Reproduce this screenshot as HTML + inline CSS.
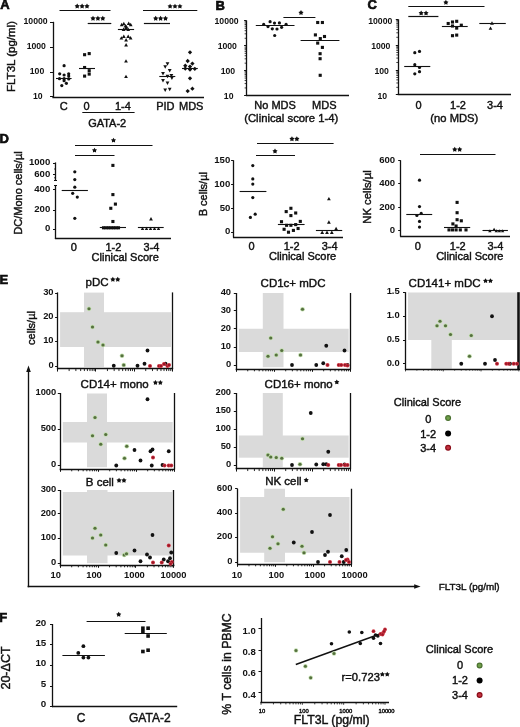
<!DOCTYPE html>
<html><head><meta charset="utf-8"><style>
html,body{margin:0;padding:0;background:#fff;overflow:hidden;}
svg{display:block;font-family:"Liberation Sans", sans-serif;will-change:transform;}
</style></head><body>
<svg width="520" height="727" viewBox="0 0 520 727">
<rect width="520" height="727" fill="#fff"/>
<text x="0.20" y="9.30" font-size="13" text-anchor="start" font-weight="bold" stroke="#000" stroke-width="0.6" fill="#111">A</text>
<line x1="53.50" y1="21.80" x2="53.50" y2="98.00" stroke="#111" stroke-width="1.3"/>
<line x1="52.40" y1="97.50" x2="204.00" y2="97.50" stroke="#111" stroke-width="1.3"/>
<line x1="50.00" y1="22.50" x2="53.00" y2="22.50" stroke="#111" stroke-width="1.0"/>
<line x1="50.00" y1="47.50" x2="53.00" y2="47.50" stroke="#111" stroke-width="1.0"/>
<line x1="50.00" y1="72.50" x2="53.00" y2="72.50" stroke="#111" stroke-width="1.0"/>
<line x1="50.00" y1="96.50" x2="53.00" y2="96.50" stroke="#111" stroke-width="1.0"/>
<text x="35.60" y="23.81" font-size="8.7" text-anchor="middle" font-weight="bold" fill="#111">10000</text>
<text x="36.30" y="48.81" font-size="8.7" text-anchor="middle" font-weight="bold" fill="#111">1000</text>
<text x="37.00" y="73.81" font-size="8.7" text-anchor="middle" font-weight="bold" fill="#111">100</text>
<text x="37.80" y="98.51" font-size="8.7" text-anchor="middle" font-weight="bold" fill="#111">10</text>
<text x="11.10" y="60.62" font-size="11.5" text-anchor="middle" stroke="#111" stroke-width="0.42" fill="#111" transform="rotate(-90 11.10 56.50)">FLT3L (pg/ml)</text>
<text x="63.80" y="110.14" font-size="11" text-anchor="middle" stroke="#111" stroke-width="0.42" fill="#111">C</text>
<text x="86.60" y="110.14" font-size="11" text-anchor="middle" stroke="#111" stroke-width="0.42" fill="#111">0</text>
<text x="122.90" y="110.14" font-size="11" text-anchor="middle" stroke="#111" stroke-width="0.42" fill="#111">1-4</text>
<text x="165.40" y="110.14" font-size="11" text-anchor="middle" stroke="#111" stroke-width="0.42" fill="#111">PID</text>
<text x="191.20" y="110.14" font-size="11" text-anchor="middle" stroke="#111" stroke-width="0.42" fill="#111">MDS</text>
<line x1="82.30" y1="112.50" x2="134.60" y2="112.50" stroke="#111" stroke-width="1.2"/>
<text x="107.20" y="127.14" font-size="11" text-anchor="middle" stroke="#111" stroke-width="0.42" fill="#111">GATA-2</text>
<line x1="59.50" y1="10.50" x2="110.50" y2="10.50" stroke="#111" stroke-width="1.2"/>
<polygon points="77.20,3.55 78.09,5.03 79.77,5.42 78.64,6.72 78.79,8.43 77.20,7.76 75.61,8.43 75.76,6.72 74.63,5.42 76.31,5.03" fill="#111"/>
<polygon points="82.10,3.55 82.99,5.03 84.67,5.42 83.54,6.72 83.69,8.43 82.10,7.76 80.51,8.43 80.66,6.72 79.53,5.42 81.21,5.03" fill="#111"/>
<polygon points="87.00,3.55 87.89,5.03 89.57,5.42 88.44,6.72 88.59,8.43 87.00,7.76 85.41,8.43 85.56,6.72 84.43,5.42 86.11,5.03" fill="#111"/>
<line x1="87.70" y1="23.50" x2="111.30" y2="23.50" stroke="#111" stroke-width="1.2"/>
<polygon points="93.00,15.75 93.89,17.23 95.57,17.62 94.44,18.92 94.59,20.63 93.00,19.96 91.41,20.63 91.56,18.92 90.43,17.62 92.11,17.23" fill="#111"/>
<polygon points="97.90,15.75 98.79,17.23 100.47,17.62 99.34,18.92 99.49,20.63 97.90,19.96 96.31,20.63 96.46,18.92 95.33,17.62 97.01,17.23" fill="#111"/>
<polygon points="102.80,15.75 103.69,17.23 105.37,17.62 104.24,18.92 104.39,20.63 102.80,19.96 101.21,20.63 101.36,18.92 100.23,17.62 101.91,17.23" fill="#111"/>
<line x1="143.00" y1="10.50" x2="197.30" y2="10.50" stroke="#111" stroke-width="1.2"/>
<polygon points="170.10,3.65 170.99,5.13 172.67,5.52 171.54,6.82 171.69,8.53 170.10,7.86 168.51,8.53 168.66,6.82 167.53,5.52 169.21,5.13" fill="#111"/>
<polygon points="175.00,3.65 175.89,5.13 177.57,5.52 176.44,6.82 176.59,8.53 175.00,7.86 173.41,8.53 173.56,6.82 172.43,5.52 174.11,5.13" fill="#111"/>
<polygon points="179.90,3.65 180.79,5.13 182.47,5.52 181.34,6.82 181.49,8.53 179.90,7.86 178.31,8.53 178.46,6.82 177.33,5.52 179.01,5.13" fill="#111"/>
<line x1="143.90" y1="23.50" x2="170.00" y2="23.50" stroke="#111" stroke-width="1.2"/>
<polygon points="155.70,15.85 156.59,17.33 158.27,17.72 157.14,19.02 157.29,20.73 155.70,20.06 154.11,20.73 154.26,19.02 153.13,17.72 154.81,17.33" fill="#111"/>
<polygon points="160.60,15.85 161.49,17.33 163.17,17.72 162.04,19.02 162.19,20.73 160.60,20.06 159.01,20.73 159.16,19.02 158.03,17.72 159.71,17.33" fill="#111"/>
<polygon points="165.50,15.85 166.39,17.33 168.07,17.72 166.94,19.02 167.09,20.73 165.50,20.06 163.91,20.73 164.06,19.02 162.93,17.72 164.61,17.33" fill="#111"/>
<circle cx="64.10" cy="65.70" r="1.6" fill="#111"/>
<circle cx="59.70" cy="73.80" r="1.6" fill="#111"/>
<circle cx="64.10" cy="75.00" r="1.6" fill="#111"/>
<circle cx="68.70" cy="73.80" r="1.6" fill="#111"/>
<circle cx="68.70" cy="76.10" r="1.6" fill="#111"/>
<circle cx="59.50" cy="78.70" r="1.6" fill="#111"/>
<circle cx="64.10" cy="78.70" r="1.6" fill="#111"/>
<circle cx="68.70" cy="78.90" r="1.6" fill="#111"/>
<circle cx="64.10" cy="80.70" r="1.6" fill="#111"/>
<circle cx="66.40" cy="83.30" r="1.6" fill="#111"/>
<circle cx="61.80" cy="85.60" r="1.6" fill="#111"/>
<line x1="56.00" y1="78.50" x2="71.60" y2="78.50" stroke="#111" stroke-width="1.1"/>
<rect x="83.05" y="53.15" width="3.1" height="3.1" fill="#111"/>
<rect x="87.65" y="52.05" width="3.1" height="3.1" fill="#111"/>
<rect x="83.05" y="65.95" width="3.1" height="3.1" fill="#111"/>
<rect x="87.65" y="69.15" width="3.1" height="3.1" fill="#111"/>
<rect x="87.65" y="72.55" width="3.1" height="3.1" fill="#111"/>
<rect x="83.05" y="74.55" width="3.1" height="3.1" fill="#111"/>
<line x1="79.00" y1="68.50" x2="95.00" y2="68.50" stroke="#111" stroke-width="1.1"/>
<path d="M121.70 22.79L123.60 26.21L119.80 26.21Z" fill="#111"/>
<path d="M123.80 21.79L125.70 25.21L121.90 25.21Z" fill="#111"/>
<path d="M128.70 21.49L130.60 24.91L126.80 24.91Z" fill="#111"/>
<path d="M130.70 22.79L132.60 26.21L128.80 26.21Z" fill="#111"/>
<path d="M125.50 24.09L127.40 27.51L123.60 27.51Z" fill="#111"/>
<path d="M126.50 25.09L128.40 28.51L124.60 28.51Z" fill="#111"/>
<path d="M123.60 27.49L125.50 30.91L121.70 30.91Z" fill="#111"/>
<path d="M128.20 27.49L130.10 30.91L126.30 30.91Z" fill="#111"/>
<path d="M126.00 26.09L127.90 29.51L124.10 29.51Z" fill="#111"/>
<path d="M121.40 36.19L123.30 39.61L119.50 39.61Z" fill="#111"/>
<path d="M123.80 34.59L125.70 38.01L121.90 38.01Z" fill="#111"/>
<path d="M128.20 34.59L130.10 38.01L126.30 38.01Z" fill="#111"/>
<path d="M130.60 35.99L132.50 39.41L128.70 39.41Z" fill="#111"/>
<path d="M126.10 38.09L128.00 41.51L124.20 41.51Z" fill="#111"/>
<path d="M126.10 42.99L128.00 46.41L124.20 46.41Z" fill="#111"/>
<path d="M126.00 59.19L127.90 62.61L124.10 62.61Z" fill="#111"/>
<path d="M126.00 74.69L127.90 78.11L124.10 78.11Z" fill="#111"/>
<line x1="117.90" y1="29.50" x2="134.10" y2="29.50" stroke="#111" stroke-width="1.1"/>
<path d="M167.50 65.71L169.40 62.29L165.60 62.29Z" fill="#111"/>
<path d="M165.20 68.71L167.10 65.29L163.30 65.29Z" fill="#111"/>
<path d="M169.70 72.41L171.60 68.99L167.80 68.99Z" fill="#111"/>
<path d="M163.00 75.51L164.90 72.09L161.10 72.09Z" fill="#111"/>
<path d="M167.50 78.21L169.40 74.79L165.60 74.79Z" fill="#111"/>
<path d="M171.40 77.41L173.30 73.99L169.50 73.99Z" fill="#111"/>
<path d="M171.90 80.01L173.80 76.59L170.00 76.59Z" fill="#111"/>
<path d="M163.00 82.41L164.90 78.99L161.10 78.99Z" fill="#111"/>
<path d="M167.50 85.01L169.40 81.59L165.60 81.59Z" fill="#111"/>
<path d="M165.20 91.91L167.10 88.49L163.30 88.49Z" fill="#111"/>
<path d="M169.70 91.21L171.60 87.79L167.80 87.79Z" fill="#111"/>
<line x1="159.30" y1="76.50" x2="175.30" y2="76.50" stroke="#111" stroke-width="1.1"/>
<path d="M190.00 50.15L192.15 52.30L190.00 54.45L187.85 52.30Z" fill="#111"/>
<path d="M187.70 58.85L189.85 61.00L187.70 63.15L185.55 61.00Z" fill="#111"/>
<path d="M192.40 61.45L194.55 63.60L192.40 65.75L190.25 63.60Z" fill="#111"/>
<path d="M185.30 63.55L187.45 65.70L185.30 67.85L183.15 65.70Z" fill="#111"/>
<path d="M190.00 64.45L192.15 66.60L190.00 68.75L187.85 66.60Z" fill="#111"/>
<path d="M185.30 66.45L187.45 68.60L185.30 70.75L183.15 68.60Z" fill="#111"/>
<path d="M190.00 67.35L192.15 69.50L190.00 71.65L187.85 69.50Z" fill="#111"/>
<path d="M194.80 66.65L196.95 68.80L194.80 70.95L192.65 68.80Z" fill="#111"/>
<path d="M190.00 76.15L192.15 78.30L190.00 80.45L187.85 78.30Z" fill="#111"/>
<path d="M187.70 88.95L189.85 91.10L187.70 93.25L185.55 91.10Z" fill="#111"/>
<path d="M192.40 86.55L194.55 88.70L192.40 90.85L190.25 88.70Z" fill="#111"/>
<line x1="182.00" y1="68.50" x2="197.80" y2="68.50" stroke="#111" stroke-width="1.1"/>
<text x="215.40" y="9.80" font-size="13" text-anchor="start" font-weight="bold" stroke="#000" stroke-width="0.6" fill="#111">B</text>
<line x1="246.50" y1="20.50" x2="246.50" y2="95.80" stroke="#111" stroke-width="1.3"/>
<line x1="246.00" y1="95.50" x2="349.00" y2="95.50" stroke="#111" stroke-width="1.3"/>
<line x1="244.10" y1="20.50" x2="246.60" y2="20.50" stroke="#111" stroke-width="1.0"/>
<line x1="244.10" y1="45.50" x2="246.60" y2="45.50" stroke="#111" stroke-width="1.0"/>
<line x1="244.10" y1="70.50" x2="246.60" y2="70.50" stroke="#111" stroke-width="1.0"/>
<line x1="244.10" y1="95.50" x2="246.60" y2="95.50" stroke="#111" stroke-width="1.0"/>
<line x1="244.60" y1="38.28" x2="246.60" y2="38.28" stroke="#111" stroke-width="0.8"/>
<line x1="244.60" y1="33.83" x2="246.60" y2="33.83" stroke="#111" stroke-width="0.8"/>
<line x1="244.60" y1="30.67" x2="246.60" y2="30.67" stroke="#111" stroke-width="0.8"/>
<line x1="244.60" y1="28.22" x2="246.60" y2="28.22" stroke="#111" stroke-width="0.8"/>
<line x1="244.60" y1="26.21" x2="246.60" y2="26.21" stroke="#111" stroke-width="0.8"/>
<line x1="244.60" y1="24.52" x2="246.60" y2="24.52" stroke="#111" stroke-width="0.8"/>
<line x1="244.60" y1="23.05" x2="246.60" y2="23.05" stroke="#111" stroke-width="0.8"/>
<line x1="244.60" y1="21.76" x2="246.60" y2="21.76" stroke="#111" stroke-width="0.8"/>
<line x1="244.60" y1="63.16" x2="246.60" y2="63.16" stroke="#111" stroke-width="0.8"/>
<line x1="244.60" y1="58.82" x2="246.60" y2="58.82" stroke="#111" stroke-width="0.8"/>
<line x1="244.60" y1="55.73" x2="246.60" y2="55.73" stroke="#111" stroke-width="0.8"/>
<line x1="244.60" y1="53.34" x2="246.60" y2="53.34" stroke="#111" stroke-width="0.8"/>
<line x1="244.60" y1="51.38" x2="246.60" y2="51.38" stroke="#111" stroke-width="0.8"/>
<line x1="244.60" y1="49.73" x2="246.60" y2="49.73" stroke="#111" stroke-width="0.8"/>
<line x1="244.60" y1="48.29" x2="246.60" y2="48.29" stroke="#111" stroke-width="0.8"/>
<line x1="244.60" y1="47.03" x2="246.60" y2="47.03" stroke="#111" stroke-width="0.8"/>
<line x1="244.60" y1="87.93" x2="246.60" y2="87.93" stroke="#111" stroke-width="0.8"/>
<line x1="244.60" y1="83.57" x2="246.60" y2="83.57" stroke="#111" stroke-width="0.8"/>
<line x1="244.60" y1="80.47" x2="246.60" y2="80.47" stroke="#111" stroke-width="0.8"/>
<line x1="244.60" y1="78.07" x2="246.60" y2="78.07" stroke="#111" stroke-width="0.8"/>
<line x1="244.60" y1="76.10" x2="246.60" y2="76.10" stroke="#111" stroke-width="0.8"/>
<line x1="244.60" y1="74.44" x2="246.60" y2="74.44" stroke="#111" stroke-width="0.8"/>
<line x1="244.60" y1="73.00" x2="246.60" y2="73.00" stroke="#111" stroke-width="0.8"/>
<line x1="244.60" y1="71.73" x2="246.60" y2="71.73" stroke="#111" stroke-width="0.8"/>
<text x="226.60" y="23.71" font-size="8.7" text-anchor="middle" font-weight="bold" fill="#111">10000</text>
<text x="227.30" y="49.01" font-size="8.7" text-anchor="middle" font-weight="bold" fill="#111">1000</text>
<text x="227.90" y="73.71" font-size="8.7" text-anchor="middle" font-weight="bold" fill="#111">100</text>
<text x="228.70" y="98.51" font-size="8.7" text-anchor="middle" font-weight="bold" fill="#111">10</text>
<text x="275.10" y="109.34" font-size="11" text-anchor="middle" stroke="#111" stroke-width="0.42" fill="#111">No MDS</text>
<text x="324.30" y="109.34" font-size="11" text-anchor="middle" stroke="#111" stroke-width="0.42" fill="#111">MDS</text>
<text x="291.30" y="121.95" font-size="11.3" text-anchor="middle" stroke="#111" stroke-width="0.42" fill="#111">(Clinical score 1-4)</text>
<line x1="283.40" y1="17.50" x2="315.40" y2="17.50" stroke="#111" stroke-width="1.1"/>
<polygon points="301.00,10.05 301.89,11.53 303.57,11.92 302.44,13.22 302.59,14.93 301.00,14.26 299.41,14.93 299.56,13.22 298.43,11.92 300.11,11.53" fill="#111"/>
<circle cx="263.70" cy="24.40" r="1.6" fill="#111"/>
<circle cx="270.10" cy="21.70" r="1.6" fill="#111"/>
<circle cx="274.50" cy="23.10" r="1.6" fill="#111"/>
<circle cx="279.40" cy="22.90" r="1.6" fill="#111"/>
<circle cx="286.10" cy="24.40" r="1.6" fill="#111"/>
<circle cx="268.00" cy="26.60" r="1.6" fill="#111"/>
<circle cx="272.30" cy="28.80" r="1.6" fill="#111"/>
<circle cx="277.00" cy="29.00" r="1.6" fill="#111"/>
<circle cx="281.60" cy="27.30" r="1.6" fill="#111"/>
<circle cx="274.70" cy="35.50" r="1.6" fill="#111"/>
<line x1="255.80" y1="25.50" x2="294.50" y2="25.50" stroke="#111" stroke-width="1.1"/>
<rect x="316.15" y="20.95" width="3.1" height="3.1" fill="#111"/>
<rect x="320.85" y="20.95" width="3.1" height="3.1" fill="#111"/>
<rect x="313.85" y="33.35" width="3.1" height="3.1" fill="#111"/>
<rect x="322.95" y="34.95" width="3.1" height="3.1" fill="#111"/>
<rect x="318.75" y="37.05" width="3.1" height="3.1" fill="#111"/>
<rect x="316.15" y="41.55" width="3.1" height="3.1" fill="#111"/>
<rect x="320.85" y="45.85" width="3.1" height="3.1" fill="#111"/>
<rect x="318.55" y="52.15" width="3.1" height="3.1" fill="#111"/>
<rect x="318.55" y="57.15" width="3.1" height="3.1" fill="#111"/>
<rect x="318.65" y="73.75" width="3.1" height="3.1" fill="#111"/>
<line x1="300.60" y1="40.50" x2="339.40" y2="40.50" stroke="#111" stroke-width="1.1"/>
<text x="367.40" y="9.30" font-size="13" text-anchor="start" font-weight="bold" stroke="#000" stroke-width="0.6" fill="#111">C</text>
<line x1="398.50" y1="19.30" x2="398.50" y2="95.00" stroke="#111" stroke-width="1.3"/>
<line x1="397.70" y1="94.50" x2="511.00" y2="94.50" stroke="#111" stroke-width="1.3"/>
<line x1="395.80" y1="19.50" x2="398.30" y2="19.50" stroke="#111" stroke-width="1.0"/>
<line x1="395.80" y1="45.50" x2="398.30" y2="45.50" stroke="#111" stroke-width="1.0"/>
<line x1="395.80" y1="70.50" x2="398.30" y2="70.50" stroke="#111" stroke-width="1.0"/>
<line x1="395.80" y1="94.50" x2="398.30" y2="94.50" stroke="#111" stroke-width="1.0"/>
<line x1="396.30" y1="37.29" x2="398.30" y2="37.29" stroke="#111" stroke-width="0.8"/>
<line x1="396.30" y1="32.79" x2="398.30" y2="32.79" stroke="#111" stroke-width="0.8"/>
<line x1="396.30" y1="29.59" x2="398.30" y2="29.59" stroke="#111" stroke-width="0.8"/>
<line x1="396.30" y1="27.11" x2="398.30" y2="27.11" stroke="#111" stroke-width="0.8"/>
<line x1="396.30" y1="25.08" x2="398.30" y2="25.08" stroke="#111" stroke-width="0.8"/>
<line x1="396.30" y1="23.37" x2="398.30" y2="23.37" stroke="#111" stroke-width="0.8"/>
<line x1="396.30" y1="21.88" x2="398.30" y2="21.88" stroke="#111" stroke-width="0.8"/>
<line x1="396.30" y1="20.57" x2="398.30" y2="20.57" stroke="#111" stroke-width="0.8"/>
<line x1="396.30" y1="62.47" x2="398.30" y2="62.47" stroke="#111" stroke-width="0.8"/>
<line x1="396.30" y1="58.07" x2="398.30" y2="58.07" stroke="#111" stroke-width="0.8"/>
<line x1="396.30" y1="54.95" x2="398.30" y2="54.95" stroke="#111" stroke-width="0.8"/>
<line x1="396.30" y1="52.53" x2="398.30" y2="52.53" stroke="#111" stroke-width="0.8"/>
<line x1="396.30" y1="50.55" x2="398.30" y2="50.55" stroke="#111" stroke-width="0.8"/>
<line x1="396.30" y1="48.87" x2="398.30" y2="48.87" stroke="#111" stroke-width="0.8"/>
<line x1="396.30" y1="47.42" x2="398.30" y2="47.42" stroke="#111" stroke-width="0.8"/>
<line x1="396.30" y1="46.14" x2="398.30" y2="46.14" stroke="#111" stroke-width="0.8"/>
<line x1="396.30" y1="87.33" x2="398.30" y2="87.33" stroke="#111" stroke-width="0.8"/>
<line x1="396.30" y1="82.97" x2="398.30" y2="82.97" stroke="#111" stroke-width="0.8"/>
<line x1="396.30" y1="79.87" x2="398.30" y2="79.87" stroke="#111" stroke-width="0.8"/>
<line x1="396.30" y1="77.47" x2="398.30" y2="77.47" stroke="#111" stroke-width="0.8"/>
<line x1="396.30" y1="75.50" x2="398.30" y2="75.50" stroke="#111" stroke-width="0.8"/>
<line x1="396.30" y1="73.84" x2="398.30" y2="73.84" stroke="#111" stroke-width="0.8"/>
<line x1="396.30" y1="72.40" x2="398.30" y2="72.40" stroke="#111" stroke-width="0.8"/>
<line x1="396.30" y1="71.13" x2="398.30" y2="71.13" stroke="#111" stroke-width="0.8"/>
<text x="380.30" y="23.71" font-size="8.7" text-anchor="middle" font-weight="bold" fill="#111">10000</text>
<text x="380.80" y="49.31" font-size="8.7" text-anchor="middle" font-weight="bold" fill="#111">1000</text>
<text x="381.70" y="74.31" font-size="8.7" text-anchor="middle" font-weight="bold" fill="#111">100</text>
<text x="382.30" y="99.11" font-size="8.7" text-anchor="middle" font-weight="bold" fill="#111">10</text>
<text x="418.50" y="109.34" font-size="11" text-anchor="middle" stroke="#111" stroke-width="0.42" fill="#111">0</text>
<text x="458.00" y="109.34" font-size="11" text-anchor="middle" stroke="#111" stroke-width="0.42" fill="#111">1-2</text>
<text x="495.00" y="109.34" font-size="11" text-anchor="middle" stroke="#111" stroke-width="0.42" fill="#111">3-4</text>
<text x="454.30" y="122.01" font-size="11.2" text-anchor="middle" stroke="#111" stroke-width="0.42" fill="#111">(no MDS)</text>
<line x1="408.30" y1="6.50" x2="484.50" y2="6.50" stroke="#111" stroke-width="1.2"/>
<polygon points="445.90,-0.15 446.79,1.33 448.47,1.72 447.34,3.02 447.49,4.73 445.90,4.06 444.31,4.73 444.46,3.02 443.33,1.72 445.01,1.33" fill="#111"/>
<line x1="408.30" y1="16.50" x2="438.40" y2="16.50" stroke="#111" stroke-width="1.2"/>
<polygon points="421.15,10.45 422.04,11.93 423.72,12.32 422.59,13.62 422.74,15.33 421.15,14.66 419.56,15.33 419.71,13.62 418.58,12.32 420.26,11.93" fill="#111"/>
<polygon points="426.05,10.45 426.94,11.93 428.62,12.32 427.49,13.62 427.64,15.33 426.05,14.66 424.46,15.33 424.61,13.62 423.48,12.32 425.16,11.93" fill="#111"/>
<circle cx="414.80" cy="52.70" r="1.6" fill="#111"/>
<circle cx="419.50" cy="51.40" r="1.6" fill="#111"/>
<circle cx="414.80" cy="64.70" r="1.6" fill="#111"/>
<circle cx="419.50" cy="67.50" r="1.6" fill="#111"/>
<circle cx="419.50" cy="71.70" r="1.6" fill="#111"/>
<circle cx="414.80" cy="73.80" r="1.6" fill="#111"/>
<line x1="404.20" y1="66.50" x2="430.30" y2="66.50" stroke="#111" stroke-width="1.1"/>
<rect x="446.65" y="21.95" width="3.1" height="3.1" fill="#111"/>
<rect x="450.95" y="20.45" width="3.1" height="3.1" fill="#111"/>
<rect x="455.15" y="19.75" width="3.1" height="3.1" fill="#111"/>
<rect x="459.75" y="23.65" width="3.1" height="3.1" fill="#111"/>
<rect x="450.95" y="24.45" width="3.1" height="3.1" fill="#111"/>
<rect x="455.15" y="26.55" width="3.1" height="3.1" fill="#111"/>
<rect x="450.95" y="34.15" width="3.1" height="3.1" fill="#111"/>
<rect x="455.15" y="33.55" width="3.1" height="3.1" fill="#111"/>
<line x1="441.90" y1="26.50" x2="467.70" y2="26.50" stroke="#111" stroke-width="1.1"/>
<path d="M492.00 21.29L493.90 24.71L490.10 24.71Z" fill="#111"/>
<path d="M490.50 26.39L492.40 29.81L488.60 29.81Z" fill="#111"/>
<line x1="479.30" y1="23.50" x2="505.80" y2="23.50" stroke="#111" stroke-width="1.1"/>
<text x="-0.60" y="142.70" font-size="13" text-anchor="start" font-weight="bold" stroke="#000" stroke-width="0.6" fill="#111">D</text>
<line x1="55.50" y1="162.40" x2="55.50" y2="180.30" stroke="#111" stroke-width="1.3"/>
<line x1="54.00" y1="180.50" x2="57.00" y2="180.50" stroke="#111" stroke-width="1.0"/>
<line x1="54.00" y1="185.50" x2="57.00" y2="185.50" stroke="#111" stroke-width="1.0"/>
<line x1="55.50" y1="185.50" x2="55.50" y2="239.00" stroke="#111" stroke-width="1.3"/>
<line x1="54.90" y1="238.50" x2="171.00" y2="238.50" stroke="#111" stroke-width="1.3"/>
<line x1="53.00" y1="163.50" x2="55.50" y2="163.50" stroke="#111" stroke-width="1.0"/>
<line x1="53.00" y1="174.50" x2="55.50" y2="174.50" stroke="#111" stroke-width="1.0"/>
<line x1="53.00" y1="189.50" x2="55.50" y2="189.50" stroke="#111" stroke-width="1.0"/>
<line x1="53.00" y1="210.50" x2="55.50" y2="210.50" stroke="#111" stroke-width="1.0"/>
<line x1="53.00" y1="229.50" x2="55.50" y2="229.50" stroke="#111" stroke-width="1.0"/>
<line x1="54.00" y1="169.00" x2="55.50" y2="169.00" stroke="#111" stroke-width="0.8"/>
<line x1="54.00" y1="177.80" x2="55.50" y2="177.80" stroke="#111" stroke-width="0.8"/>
<text x="50.30" y="165.44" font-size="9.6" text-anchor="end" font-weight="bold" fill="#111">1000</text>
<text x="50.30" y="177.24" font-size="9.6" text-anchor="end" font-weight="bold" fill="#111">600</text>
<text x="50.30" y="192.24" font-size="9.6" text-anchor="end" font-weight="bold" fill="#111">400</text>
<text x="50.30" y="212.44" font-size="9.6" text-anchor="end" font-weight="bold" fill="#111">200</text>
<text x="50.30" y="231.44" font-size="9.6" text-anchor="end" font-weight="bold" fill="#111">0</text>
<text x="18.50" y="196.94" font-size="11" text-anchor="middle" stroke="#111" stroke-width="0.42" fill="#111" transform="rotate(-90 18.50 193.00)">DC/Mono cells/µl</text>
<text x="73.80" y="251.14" font-size="11" text-anchor="middle" stroke="#111" stroke-width="0.42" fill="#111">0</text>
<text x="113.40" y="251.14" font-size="11" text-anchor="middle" stroke="#111" stroke-width="0.42" fill="#111">1-2</text>
<text x="151.50" y="251.14" font-size="11" text-anchor="middle" stroke="#111" stroke-width="0.42" fill="#111">3-4</text>
<text x="125.20" y="260.94" font-size="11" text-anchor="middle" stroke="#111" stroke-width="0.42" fill="#111">Clinical Score</text>
<line x1="75.00" y1="145.50" x2="152.50" y2="145.50" stroke="#111" stroke-width="1.2"/>
<polygon points="113.50,137.65 114.39,139.13 116.07,139.52 114.94,140.82 115.09,142.53 113.50,141.86 111.91,142.53 112.06,140.82 110.93,139.52 112.61,139.13" fill="#111"/>
<line x1="75.00" y1="155.50" x2="114.50" y2="155.50" stroke="#111" stroke-width="1.2"/>
<polygon points="94.50,147.65 95.39,149.13 97.07,149.52 95.94,150.82 96.09,152.53 94.50,151.86 92.91,152.53 93.06,150.82 91.93,149.52 93.61,149.13" fill="#111"/>
<circle cx="74.80" cy="171.80" r="1.6" fill="#111"/>
<circle cx="74.80" cy="179.60" r="1.6" fill="#111"/>
<circle cx="74.80" cy="187.20" r="1.6" fill="#111"/>
<circle cx="72.70" cy="193.30" r="1.6" fill="#111"/>
<circle cx="77.30" cy="197.10" r="1.6" fill="#111"/>
<circle cx="74.80" cy="218.30" r="1.6" fill="#111"/>
<line x1="61.70" y1="190.50" x2="87.90" y2="190.50" stroke="#111" stroke-width="1.1"/>
<rect x="111.35" y="163.85" width="3.1" height="3.1" fill="#111"/>
<rect x="111.35" y="193.05" width="3.1" height="3.1" fill="#111"/>
<rect x="113.85" y="202.55" width="3.1" height="3.1" fill="#111"/>
<rect x="109.25" y="206.75" width="3.1" height="3.1" fill="#111"/>
<rect x="111.35" y="219.95" width="3.1" height="3.1" fill="#111"/>
<rect x="101.95" y="226.25" width="3.1" height="3.1" fill="#111"/>
<rect x="104.45" y="226.25" width="3.1" height="3.1" fill="#111"/>
<rect x="106.95" y="226.25" width="3.1" height="3.1" fill="#111"/>
<rect x="109.45" y="226.25" width="3.1" height="3.1" fill="#111"/>
<rect x="111.95" y="226.25" width="3.1" height="3.1" fill="#111"/>
<rect x="114.45" y="226.25" width="3.1" height="3.1" fill="#111"/>
<rect x="116.95" y="226.25" width="3.1" height="3.1" fill="#111"/>
<line x1="99.80" y1="227.50" x2="126.00" y2="227.50" stroke="#111" stroke-width="1.1"/>
<path d="M151.00 216.99L152.90 220.41L149.10 220.41Z" fill="#111"/>
<path d="M142.50 226.87L144.20 229.93L140.80 229.93Z" fill="#111"/>
<path d="M146.50 226.87L148.20 229.93L144.80 229.93Z" fill="#111"/>
<path d="M150.50 226.87L152.20 229.93L148.80 229.93Z" fill="#111"/>
<path d="M154.50 226.87L156.20 229.93L152.80 229.93Z" fill="#111"/>
<path d="M158.50 226.87L160.20 229.93L156.80 229.93Z" fill="#111"/>
<line x1="137.90" y1="227.50" x2="163.70" y2="227.50" stroke="#111" stroke-width="1.1"/>
<line x1="233.50" y1="160.30" x2="233.50" y2="237.50" stroke="#111" stroke-width="1.3"/>
<line x1="233.00" y1="237.50" x2="343.00" y2="237.50" stroke="#111" stroke-width="1.3"/>
<line x1="231.10" y1="160.50" x2="233.60" y2="160.50" stroke="#111" stroke-width="1.0"/>
<text x="230.30" y="162.74" font-size="9.6" text-anchor="end" font-weight="bold" fill="#111">150</text>
<line x1="231.10" y1="184.50" x2="233.60" y2="184.50" stroke="#111" stroke-width="1.0"/>
<text x="230.30" y="187.24" font-size="9.6" text-anchor="end" font-weight="bold" fill="#111">100</text>
<line x1="231.10" y1="208.50" x2="233.60" y2="208.50" stroke="#111" stroke-width="1.0"/>
<text x="230.30" y="210.84" font-size="9.6" text-anchor="end" font-weight="bold" fill="#111">50</text>
<line x1="231.10" y1="232.50" x2="233.60" y2="232.50" stroke="#111" stroke-width="1.0"/>
<text x="230.30" y="234.44" font-size="9.6" text-anchor="end" font-weight="bold" fill="#111">0</text>
<text x="203.30" y="198.14" font-size="11" text-anchor="middle" stroke="#111" stroke-width="0.42" fill="#111" transform="rotate(-90 203.30 194.20)">B cells/µl</text>
<text x="251.60" y="249.94" font-size="11" text-anchor="middle" stroke="#111" stroke-width="0.42" fill="#111">0</text>
<text x="291.60" y="249.94" font-size="11" text-anchor="middle" stroke="#111" stroke-width="0.42" fill="#111">1-2</text>
<text x="329.70" y="249.94" font-size="11" text-anchor="middle" stroke="#111" stroke-width="0.42" fill="#111">3-4</text>
<text x="302.60" y="260.44" font-size="11" text-anchor="middle" stroke="#111" stroke-width="0.42" fill="#111">Clinical Score</text>
<line x1="257.00" y1="143.50" x2="333.60" y2="143.50" stroke="#111" stroke-width="1.2"/>
<polygon points="291.95,136.25 292.84,137.73 294.52,138.12 293.39,139.42 293.54,141.13 291.95,140.46 290.36,141.13 290.51,139.42 289.38,138.12 291.06,137.73" fill="#111"/>
<polygon points="296.85,136.25 297.74,137.73 299.42,138.12 298.29,139.42 298.44,141.13 296.85,140.46 295.26,141.13 295.41,139.42 294.28,138.12 295.96,137.73" fill="#111"/>
<line x1="256.00" y1="155.50" x2="295.00" y2="155.50" stroke="#111" stroke-width="1.2"/>
<polygon points="275.00,148.55 275.89,150.03 277.57,150.42 276.44,151.72 276.59,153.43 275.00,152.76 273.41,153.43 273.56,151.72 272.43,150.42 274.11,150.03" fill="#111"/>
<circle cx="252.80" cy="165.60" r="1.6" fill="#111"/>
<circle cx="252.80" cy="178.90" r="1.6" fill="#111"/>
<circle cx="252.80" cy="184.10" r="1.6" fill="#111"/>
<circle cx="252.80" cy="197.60" r="1.6" fill="#111"/>
<circle cx="255.20" cy="214.20" r="1.6" fill="#111"/>
<circle cx="250.40" cy="217.40" r="1.6" fill="#111"/>
<line x1="239.60" y1="191.50" x2="266.40" y2="191.50" stroke="#111" stroke-width="1.1"/>
<rect x="289.35" y="206.75" width="3.1" height="3.1" fill="#111"/>
<rect x="284.65" y="210.05" width="3.1" height="3.1" fill="#111"/>
<rect x="294.15" y="211.45" width="3.1" height="3.1" fill="#111"/>
<rect x="289.35" y="214.05" width="3.1" height="3.1" fill="#111"/>
<rect x="279.95" y="220.15" width="3.1" height="3.1" fill="#111"/>
<rect x="298.75" y="219.85" width="3.1" height="3.1" fill="#111"/>
<rect x="285.05" y="223.75" width="3.1" height="3.1" fill="#111"/>
<rect x="289.35" y="223.75" width="3.1" height="3.1" fill="#111"/>
<rect x="294.15" y="223.05" width="3.1" height="3.1" fill="#111"/>
<rect x="282.55" y="227.75" width="3.1" height="3.1" fill="#111"/>
<rect x="296.55" y="226.95" width="3.1" height="3.1" fill="#111"/>
<rect x="291.85" y="228.85" width="3.1" height="3.1" fill="#111"/>
<rect x="286.95" y="230.65" width="3.1" height="3.1" fill="#111"/>
<line x1="277.90" y1="224.50" x2="304.60" y2="224.50" stroke="#111" stroke-width="1.1"/>
<path d="M328.90 196.89L330.80 200.31L327.00 200.31Z" fill="#111"/>
<path d="M328.90 220.29L330.80 223.71L327.00 223.71Z" fill="#111"/>
<path d="M336.10 226.79L338.00 230.21L334.20 230.21Z" fill="#111"/>
<path d="M322.20 230.49L324.10 233.91L320.30 233.91Z" fill="#111"/>
<path d="M327.00 230.49L328.90 233.91L325.10 233.91Z" fill="#111"/>
<path d="M331.80 230.49L333.70 233.91L329.90 233.91Z" fill="#111"/>
<line x1="315.90" y1="230.50" x2="342.20" y2="230.50" stroke="#111" stroke-width="1.1"/>
<line x1="400.50" y1="160.30" x2="400.50" y2="236.50" stroke="#111" stroke-width="1.3"/>
<line x1="400.10" y1="236.50" x2="510.00" y2="236.50" stroke="#111" stroke-width="1.3"/>
<line x1="398.20" y1="160.50" x2="400.70" y2="160.50" stroke="#111" stroke-width="1.0"/>
<text x="395.20" y="162.74" font-size="9.6" text-anchor="end" font-weight="bold" fill="#111">600</text>
<line x1="398.20" y1="183.50" x2="400.70" y2="183.50" stroke="#111" stroke-width="1.0"/>
<text x="395.20" y="186.24" font-size="9.6" text-anchor="end" font-weight="bold" fill="#111">400</text>
<line x1="398.20" y1="207.50" x2="400.70" y2="207.50" stroke="#111" stroke-width="1.0"/>
<text x="395.20" y="209.84" font-size="9.6" text-anchor="end" font-weight="bold" fill="#111">200</text>
<line x1="398.20" y1="230.50" x2="400.70" y2="230.50" stroke="#111" stroke-width="1.0"/>
<text x="395.20" y="232.74" font-size="9.6" text-anchor="end" font-weight="bold" fill="#111">0</text>
<text x="367.00" y="201.03" font-size="11.25" text-anchor="middle" stroke="#111" stroke-width="0.42" fill="#111" transform="rotate(-90 367.00 197.00)">NK cells/µl</text>
<text x="417.80" y="249.94" font-size="11" text-anchor="middle" stroke="#111" stroke-width="0.42" fill="#111">0</text>
<text x="457.80" y="249.94" font-size="11" text-anchor="middle" stroke="#111" stroke-width="0.42" fill="#111">1-2</text>
<text x="495.40" y="249.94" font-size="11" text-anchor="middle" stroke="#111" stroke-width="0.42" fill="#111">3-4</text>
<text x="469.80" y="260.44" font-size="11" text-anchor="middle" stroke="#111" stroke-width="0.42" fill="#111">Clinical Score</text>
<line x1="420.00" y1="154.50" x2="495.50" y2="154.50" stroke="#111" stroke-width="1.2"/>
<polygon points="454.75,146.85 455.64,148.33 457.32,148.72 456.19,150.02 456.34,151.73 454.75,151.06 453.16,151.73 453.31,150.02 452.18,148.72 453.86,148.33" fill="#111"/>
<polygon points="459.65,146.85 460.54,148.33 462.22,148.72 461.09,150.02 461.24,151.73 459.65,151.06 458.06,151.73 458.21,150.02 457.08,148.72 458.76,148.33" fill="#111"/>
<circle cx="419.50" cy="180.20" r="1.6" fill="#111"/>
<circle cx="419.50" cy="206.60" r="1.6" fill="#111"/>
<circle cx="421.20" cy="213.40" r="1.6" fill="#111"/>
<circle cx="416.90" cy="215.50" r="1.6" fill="#111"/>
<circle cx="419.50" cy="221.40" r="1.6" fill="#111"/>
<circle cx="419.50" cy="227.10" r="1.6" fill="#111"/>
<line x1="406.30" y1="214.50" x2="432.20" y2="214.50" stroke="#111" stroke-width="1.1"/>
<rect x="455.55" y="200.85" width="3.1" height="3.1" fill="#111"/>
<rect x="455.55" y="211.15" width="3.1" height="3.1" fill="#111"/>
<rect x="455.55" y="218.15" width="3.1" height="3.1" fill="#111"/>
<rect x="459.75" y="219.25" width="3.1" height="3.1" fill="#111"/>
<rect x="451.35" y="222.35" width="3.1" height="3.1" fill="#111"/>
<rect x="454.55" y="224.45" width="3.1" height="3.1" fill="#111"/>
<rect x="447.45" y="228.35" width="3.1" height="3.1" fill="#111"/>
<rect x="450.95" y="228.35" width="3.1" height="3.1" fill="#111"/>
<rect x="454.55" y="228.35" width="3.1" height="3.1" fill="#111"/>
<rect x="458.75" y="228.35" width="3.1" height="3.1" fill="#111"/>
<rect x="464.45" y="228.35" width="3.1" height="3.1" fill="#111"/>
<line x1="444.00" y1="227.50" x2="470.20" y2="227.50" stroke="#111" stroke-width="1.1"/>
<path d="M489.90 229.17L491.60 232.23L488.20 232.23Z" fill="#111"/>
<path d="M494.10 227.67L495.80 230.73L492.40 230.73Z" fill="#111"/>
<path d="M496.30 229.17L498.00 232.23L494.60 232.23Z" fill="#111"/>
<path d="M499.40 229.17L501.10 232.23L497.70 232.23Z" fill="#111"/>
<path d="M502.60 229.17L504.30 232.23L500.90 232.23Z" fill="#111"/>
<line x1="482.50" y1="230.50" x2="507.90" y2="230.50" stroke="#111" stroke-width="1.1"/>
<text x="-0.60" y="283.60" font-size="13" text-anchor="start" font-weight="bold" stroke="#000" stroke-width="0.6" fill="#111">E</text>
<rect x="60.10" y="312.20" width="110.90" height="34.80" fill="#dadada"/>
<rect x="84.00" y="292.60" width="20.00" height="74.35" fill="#dadada"/>
<line x1="57.50" y1="292.40" x2="57.50" y2="369.35" stroke="#111" stroke-width="1.3"/>
<line x1="57.00" y1="368.50" x2="173.10" y2="368.50" stroke="#111" stroke-width="1.3"/>
<line x1="172.50" y1="292.40" x2="172.50" y2="369.35" stroke="#111" stroke-width="1.3"/>
<line x1="55.10" y1="293.50" x2="57.60" y2="293.50" stroke="#111" stroke-width="1.0"/>
<text x="53.60" y="294.97" font-size="9.4" text-anchor="end" font-weight="bold" fill="#111">30</text>
<line x1="55.10" y1="317.50" x2="57.60" y2="317.50" stroke="#111" stroke-width="1.0"/>
<text x="53.60" y="319.47" font-size="9.4" text-anchor="end" font-weight="bold" fill="#111">20</text>
<line x1="55.10" y1="341.50" x2="57.60" y2="341.50" stroke="#111" stroke-width="1.0"/>
<text x="53.60" y="343.37" font-size="9.4" text-anchor="end" font-weight="bold" fill="#111">10</text>
<line x1="55.10" y1="366.50" x2="57.60" y2="366.50" stroke="#111" stroke-width="1.0"/>
<text x="53.60" y="368.17" font-size="9.4" text-anchor="end" font-weight="bold" fill="#111">0</text>
<line x1="57.50" y1="368.75" x2="57.50" y2="371.55" stroke="#111" stroke-width="1.0"/>
<line x1="69.13" y1="368.75" x2="69.13" y2="371.05" stroke="#111" stroke-width="0.9"/>
<line x1="75.87" y1="368.75" x2="75.87" y2="371.05" stroke="#111" stroke-width="0.9"/>
<line x1="80.66" y1="368.75" x2="80.66" y2="371.05" stroke="#111" stroke-width="0.9"/>
<line x1="84.37" y1="368.75" x2="84.37" y2="371.05" stroke="#111" stroke-width="0.9"/>
<line x1="87.40" y1="368.75" x2="87.40" y2="371.05" stroke="#111" stroke-width="0.9"/>
<line x1="89.97" y1="368.75" x2="89.97" y2="371.05" stroke="#111" stroke-width="0.9"/>
<line x1="92.19" y1="368.75" x2="92.19" y2="371.05" stroke="#111" stroke-width="0.9"/>
<line x1="94.15" y1="368.75" x2="94.15" y2="371.05" stroke="#111" stroke-width="0.9"/>
<line x1="95.50" y1="368.75" x2="95.50" y2="371.55" stroke="#111" stroke-width="1.0"/>
<line x1="107.43" y1="368.75" x2="107.43" y2="371.05" stroke="#111" stroke-width="0.9"/>
<line x1="114.17" y1="368.75" x2="114.17" y2="371.05" stroke="#111" stroke-width="0.9"/>
<line x1="118.96" y1="368.75" x2="118.96" y2="371.05" stroke="#111" stroke-width="0.9"/>
<line x1="122.67" y1="368.75" x2="122.67" y2="371.05" stroke="#111" stroke-width="0.9"/>
<line x1="125.70" y1="368.75" x2="125.70" y2="371.05" stroke="#111" stroke-width="0.9"/>
<line x1="128.27" y1="368.75" x2="128.27" y2="371.05" stroke="#111" stroke-width="0.9"/>
<line x1="130.49" y1="368.75" x2="130.49" y2="371.05" stroke="#111" stroke-width="0.9"/>
<line x1="132.45" y1="368.75" x2="132.45" y2="371.05" stroke="#111" stroke-width="0.9"/>
<line x1="134.50" y1="368.75" x2="134.50" y2="371.55" stroke="#111" stroke-width="1.0"/>
<line x1="145.73" y1="368.75" x2="145.73" y2="371.05" stroke="#111" stroke-width="0.9"/>
<line x1="152.47" y1="368.75" x2="152.47" y2="371.05" stroke="#111" stroke-width="0.9"/>
<line x1="157.26" y1="368.75" x2="157.26" y2="371.05" stroke="#111" stroke-width="0.9"/>
<line x1="160.97" y1="368.75" x2="160.97" y2="371.05" stroke="#111" stroke-width="0.9"/>
<line x1="164.00" y1="368.75" x2="164.00" y2="371.05" stroke="#111" stroke-width="0.9"/>
<line x1="166.57" y1="368.75" x2="166.57" y2="371.05" stroke="#111" stroke-width="0.9"/>
<line x1="168.79" y1="368.75" x2="168.79" y2="371.05" stroke="#111" stroke-width="0.9"/>
<line x1="170.75" y1="368.75" x2="170.75" y2="371.05" stroke="#111" stroke-width="0.9"/>
<line x1="172.50" y1="368.75" x2="172.50" y2="371.55" stroke="#111" stroke-width="1.0"/>
<circle cx="89.00" cy="308.75" r="2.35" fill="#c2dfae"/>
<circle cx="89.00" cy="308.75" r="1.60" fill="#56703f"/>
<circle cx="92.50" cy="327.00" r="2.35" fill="#c2dfae"/>
<circle cx="92.50" cy="327.00" r="1.60" fill="#56703f"/>
<circle cx="98.00" cy="342.00" r="2.35" fill="#c2dfae"/>
<circle cx="98.00" cy="342.00" r="1.60" fill="#56703f"/>
<circle cx="103.00" cy="345.00" r="2.35" fill="#c2dfae"/>
<circle cx="103.00" cy="345.00" r="1.60" fill="#56703f"/>
<circle cx="122.00" cy="355.75" r="2.35" fill="#c2dfae"/>
<circle cx="122.00" cy="355.75" r="1.60" fill="#56703f"/>
<circle cx="123.75" cy="365.00" r="2.35" fill="#c2dfae"/>
<circle cx="123.75" cy="365.00" r="1.60" fill="#56703f"/>
<circle cx="113.75" cy="365.75" r="1.90" fill="#111"/>
<circle cx="137.50" cy="365.75" r="1.90" fill="#111"/>
<circle cx="144.50" cy="363.75" r="1.90" fill="#111"/>
<circle cx="147.50" cy="350.50" r="1.90" fill="#111"/>
<circle cx="165.50" cy="363.75" r="1.90" fill="#111"/>
<circle cx="150.00" cy="366.00" r="2.00" fill="#d43c48"/>
<circle cx="150.00" cy="366.00" r="1.30" fill="#9a1626"/>
<circle cx="159.00" cy="366.00" r="2.00" fill="#d43c48"/>
<circle cx="159.00" cy="366.00" r="1.30" fill="#9a1626"/>
<circle cx="161.00" cy="366.00" r="2.00" fill="#d43c48"/>
<circle cx="161.00" cy="366.00" r="1.30" fill="#9a1626"/>
<circle cx="167.50" cy="366.00" r="2.00" fill="#d43c48"/>
<circle cx="167.50" cy="366.00" r="1.30" fill="#9a1626"/>
<circle cx="169.00" cy="365.00" r="2.00" fill="#d43c48"/>
<circle cx="169.00" cy="365.00" r="1.30" fill="#9a1626"/>
<circle cx="164.00" cy="364.00" r="2.00" fill="#d43c48"/>
<circle cx="164.00" cy="364.00" r="1.30" fill="#9a1626"/>
<text x="85.60" y="286.37" font-size="11.5" text-anchor="start" stroke="#111" stroke-width="0.42" fill="#111">pDC</text>
<polygon points="112.85,276.85 113.74,278.33 115.42,278.72 114.29,280.02 114.44,281.73 112.85,281.06 111.26,281.73 111.41,280.02 110.28,278.72 111.96,278.33" fill="#111"/>
<polygon points="117.75,276.85 118.64,278.33 120.32,278.72 119.19,280.02 119.34,281.73 117.75,281.06 116.16,281.73 116.31,280.02 115.18,278.72 116.86,278.33" fill="#111"/>
<text x="30.60" y="331.94" font-size="11" text-anchor="middle" stroke="#111" stroke-width="0.42" fill="#111" transform="rotate(-90 30.60 328.00)">cells/µl</text>
<rect x="62.80" y="422.00" width="109.90" height="20.50" fill="#dadada"/>
<rect x="87.00" y="393.50" width="20.00" height="73.70" fill="#dadada"/>
<line x1="60.50" y1="393.00" x2="60.50" y2="469.60" stroke="#111" stroke-width="1.3"/>
<line x1="59.70" y1="469.50" x2="174.80" y2="469.50" stroke="#111" stroke-width="1.3"/>
<line x1="174.50" y1="393.00" x2="174.50" y2="469.60" stroke="#111" stroke-width="1.3"/>
<line x1="57.80" y1="393.50" x2="60.30" y2="393.50" stroke="#111" stroke-width="1.0"/>
<text x="56.30" y="394.97" font-size="9.4" text-anchor="end" font-weight="bold" fill="#111">1000</text>
<line x1="57.80" y1="429.50" x2="60.30" y2="429.50" stroke="#111" stroke-width="1.0"/>
<text x="56.30" y="431.47" font-size="9.4" text-anchor="end" font-weight="bold" fill="#111">500</text>
<line x1="57.80" y1="465.50" x2="60.30" y2="465.50" stroke="#111" stroke-width="1.0"/>
<text x="56.30" y="467.47" font-size="9.4" text-anchor="end" font-weight="bold" fill="#111">0</text>
<line x1="60.50" y1="469.00" x2="60.50" y2="471.80" stroke="#111" stroke-width="1.0"/>
<line x1="71.73" y1="469.00" x2="71.73" y2="471.30" stroke="#111" stroke-width="0.9"/>
<line x1="78.41" y1="469.00" x2="78.41" y2="471.30" stroke="#111" stroke-width="0.9"/>
<line x1="83.16" y1="469.00" x2="83.16" y2="471.30" stroke="#111" stroke-width="0.9"/>
<line x1="86.84" y1="469.00" x2="86.84" y2="471.30" stroke="#111" stroke-width="0.9"/>
<line x1="89.84" y1="469.00" x2="89.84" y2="471.30" stroke="#111" stroke-width="0.9"/>
<line x1="92.39" y1="469.00" x2="92.39" y2="471.30" stroke="#111" stroke-width="0.9"/>
<line x1="94.59" y1="469.00" x2="94.59" y2="471.30" stroke="#111" stroke-width="0.9"/>
<line x1="96.53" y1="469.00" x2="96.53" y2="471.30" stroke="#111" stroke-width="0.9"/>
<line x1="98.50" y1="469.00" x2="98.50" y2="471.80" stroke="#111" stroke-width="1.0"/>
<line x1="109.70" y1="469.00" x2="109.70" y2="471.30" stroke="#111" stroke-width="0.9"/>
<line x1="116.38" y1="469.00" x2="116.38" y2="471.30" stroke="#111" stroke-width="0.9"/>
<line x1="121.12" y1="469.00" x2="121.12" y2="471.30" stroke="#111" stroke-width="0.9"/>
<line x1="124.80" y1="469.00" x2="124.80" y2="471.30" stroke="#111" stroke-width="0.9"/>
<line x1="127.81" y1="469.00" x2="127.81" y2="471.30" stroke="#111" stroke-width="0.9"/>
<line x1="130.35" y1="469.00" x2="130.35" y2="471.30" stroke="#111" stroke-width="0.9"/>
<line x1="132.55" y1="469.00" x2="132.55" y2="471.30" stroke="#111" stroke-width="0.9"/>
<line x1="134.50" y1="469.00" x2="134.50" y2="471.30" stroke="#111" stroke-width="0.9"/>
<line x1="136.50" y1="469.00" x2="136.50" y2="471.80" stroke="#111" stroke-width="1.0"/>
<line x1="147.66" y1="469.00" x2="147.66" y2="471.30" stroke="#111" stroke-width="0.9"/>
<line x1="154.35" y1="469.00" x2="154.35" y2="471.30" stroke="#111" stroke-width="0.9"/>
<line x1="159.09" y1="469.00" x2="159.09" y2="471.30" stroke="#111" stroke-width="0.9"/>
<line x1="162.77" y1="469.00" x2="162.77" y2="471.30" stroke="#111" stroke-width="0.9"/>
<line x1="165.78" y1="469.00" x2="165.78" y2="471.30" stroke="#111" stroke-width="0.9"/>
<line x1="168.32" y1="469.00" x2="168.32" y2="471.30" stroke="#111" stroke-width="0.9"/>
<line x1="170.52" y1="469.00" x2="170.52" y2="471.30" stroke="#111" stroke-width="0.9"/>
<line x1="172.46" y1="469.00" x2="172.46" y2="471.30" stroke="#111" stroke-width="0.9"/>
<line x1="174.50" y1="469.00" x2="174.50" y2="471.80" stroke="#111" stroke-width="1.0"/>
<circle cx="95.00" cy="417.50" r="2.35" fill="#c2dfae"/>
<circle cx="95.00" cy="417.50" r="1.60" fill="#56703f"/>
<circle cx="92.50" cy="435.75" r="2.35" fill="#c2dfae"/>
<circle cx="92.50" cy="435.75" r="1.60" fill="#56703f"/>
<circle cx="105.75" cy="434.50" r="2.35" fill="#c2dfae"/>
<circle cx="105.75" cy="434.50" r="1.60" fill="#56703f"/>
<circle cx="100.75" cy="444.25" r="2.35" fill="#c2dfae"/>
<circle cx="100.75" cy="444.25" r="1.60" fill="#56703f"/>
<circle cx="126.75" cy="446.25" r="2.35" fill="#c2dfae"/>
<circle cx="126.75" cy="446.25" r="1.60" fill="#56703f"/>
<circle cx="124.50" cy="458.25" r="2.35" fill="#c2dfae"/>
<circle cx="124.50" cy="458.25" r="1.60" fill="#56703f"/>
<circle cx="147.50" cy="399.25" r="1.90" fill="#111"/>
<circle cx="134.50" cy="450.00" r="1.90" fill="#111"/>
<circle cx="150.50" cy="451.25" r="1.90" fill="#111"/>
<circle cx="152.50" cy="449.50" r="1.90" fill="#111"/>
<circle cx="168.75" cy="451.25" r="1.90" fill="#111"/>
<circle cx="140.50" cy="460.50" r="1.90" fill="#111"/>
<circle cx="116.25" cy="465.50" r="1.90" fill="#111"/>
<circle cx="151.75" cy="465.50" r="1.90" fill="#111"/>
<circle cx="162.50" cy="465.00" r="1.90" fill="#111"/>
<circle cx="153.00" cy="457.50" r="2.00" fill="#d43c48"/>
<circle cx="153.00" cy="457.50" r="1.30" fill="#9a1626"/>
<circle cx="164.50" cy="465.50" r="2.00" fill="#d43c48"/>
<circle cx="164.50" cy="465.50" r="1.30" fill="#9a1626"/>
<circle cx="168.75" cy="465.50" r="2.00" fill="#d43c48"/>
<circle cx="168.75" cy="465.50" r="1.30" fill="#9a1626"/>
<circle cx="171.25" cy="465.50" r="2.00" fill="#d43c48"/>
<circle cx="171.25" cy="465.50" r="1.30" fill="#9a1626"/>
<text x="80.60" y="387.87" font-size="11.5" text-anchor="start" stroke="#111" stroke-width="0.42" fill="#111">CD14+ mono</text>
<polygon points="155.45,379.95 156.34,381.43 158.02,381.82 156.89,383.12 157.04,384.83 155.45,384.16 153.86,384.83 154.01,383.12 152.88,381.82 154.56,381.43" fill="#111"/>
<polygon points="160.35,379.95 161.24,381.43 162.92,381.82 161.79,383.12 161.94,384.83 160.35,384.16 158.76,384.83 158.91,383.12 157.78,381.82 159.46,381.43" fill="#111"/>
<rect x="62.80" y="492.00" width="109.50" height="63.50" fill="#dadada"/>
<rect x="87.00" y="490.00" width="20.50" height="73.20" fill="#dadada"/>
<line x1="60.50" y1="490.00" x2="60.50" y2="565.60" stroke="#111" stroke-width="1.3"/>
<line x1="59.70" y1="565.50" x2="174.40" y2="565.50" stroke="#111" stroke-width="1.3"/>
<line x1="173.50" y1="490.00" x2="173.50" y2="565.60" stroke="#111" stroke-width="1.3"/>
<line x1="57.80" y1="490.50" x2="60.30" y2="490.50" stroke="#111" stroke-width="1.0"/>
<text x="56.30" y="491.97" font-size="9.4" text-anchor="end" font-weight="bold" fill="#111">300</text>
<line x1="57.80" y1="513.50" x2="60.30" y2="513.50" stroke="#111" stroke-width="1.0"/>
<text x="56.30" y="515.72" font-size="9.4" text-anchor="end" font-weight="bold" fill="#111">200</text>
<line x1="57.80" y1="538.50" x2="60.30" y2="538.50" stroke="#111" stroke-width="1.0"/>
<text x="56.30" y="539.97" font-size="9.4" text-anchor="end" font-weight="bold" fill="#111">100</text>
<line x1="57.80" y1="563.50" x2="60.30" y2="563.50" stroke="#111" stroke-width="1.0"/>
<text x="56.30" y="564.97" font-size="9.4" text-anchor="end" font-weight="bold" fill="#111">0</text>
<line x1="60.50" y1="565.00" x2="60.50" y2="567.80" stroke="#111" stroke-width="1.0"/>
<line x1="71.69" y1="565.00" x2="71.69" y2="567.30" stroke="#111" stroke-width="0.9"/>
<line x1="78.35" y1="565.00" x2="78.35" y2="567.30" stroke="#111" stroke-width="0.9"/>
<line x1="83.08" y1="565.00" x2="83.08" y2="567.30" stroke="#111" stroke-width="0.9"/>
<line x1="86.74" y1="565.00" x2="86.74" y2="567.30" stroke="#111" stroke-width="0.9"/>
<line x1="89.74" y1="565.00" x2="89.74" y2="567.30" stroke="#111" stroke-width="0.9"/>
<line x1="92.27" y1="565.00" x2="92.27" y2="567.30" stroke="#111" stroke-width="0.9"/>
<line x1="94.47" y1="565.00" x2="94.47" y2="567.30" stroke="#111" stroke-width="0.9"/>
<line x1="96.40" y1="565.00" x2="96.40" y2="567.30" stroke="#111" stroke-width="0.9"/>
<line x1="98.50" y1="565.00" x2="98.50" y2="567.80" stroke="#111" stroke-width="1.0"/>
<line x1="109.52" y1="565.00" x2="109.52" y2="567.30" stroke="#111" stroke-width="0.9"/>
<line x1="116.18" y1="565.00" x2="116.18" y2="567.30" stroke="#111" stroke-width="0.9"/>
<line x1="120.91" y1="565.00" x2="120.91" y2="567.30" stroke="#111" stroke-width="0.9"/>
<line x1="124.58" y1="565.00" x2="124.58" y2="567.30" stroke="#111" stroke-width="0.9"/>
<line x1="127.57" y1="565.00" x2="127.57" y2="567.30" stroke="#111" stroke-width="0.9"/>
<line x1="130.11" y1="565.00" x2="130.11" y2="567.30" stroke="#111" stroke-width="0.9"/>
<line x1="132.30" y1="565.00" x2="132.30" y2="567.30" stroke="#111" stroke-width="0.9"/>
<line x1="134.24" y1="565.00" x2="134.24" y2="567.30" stroke="#111" stroke-width="0.9"/>
<line x1="135.50" y1="565.00" x2="135.50" y2="567.80" stroke="#111" stroke-width="1.0"/>
<line x1="147.36" y1="565.00" x2="147.36" y2="567.30" stroke="#111" stroke-width="0.9"/>
<line x1="154.02" y1="565.00" x2="154.02" y2="567.30" stroke="#111" stroke-width="0.9"/>
<line x1="158.74" y1="565.00" x2="158.74" y2="567.30" stroke="#111" stroke-width="0.9"/>
<line x1="162.41" y1="565.00" x2="162.41" y2="567.30" stroke="#111" stroke-width="0.9"/>
<line x1="165.41" y1="565.00" x2="165.41" y2="567.30" stroke="#111" stroke-width="0.9"/>
<line x1="167.94" y1="565.00" x2="167.94" y2="567.30" stroke="#111" stroke-width="0.9"/>
<line x1="170.13" y1="565.00" x2="170.13" y2="567.30" stroke="#111" stroke-width="0.9"/>
<line x1="172.07" y1="565.00" x2="172.07" y2="567.30" stroke="#111" stroke-width="0.9"/>
<line x1="173.50" y1="565.00" x2="173.50" y2="567.80" stroke="#111" stroke-width="1.0"/>
<circle cx="95.00" cy="528.25" r="2.35" fill="#c2dfae"/>
<circle cx="95.00" cy="528.25" r="1.60" fill="#56703f"/>
<circle cx="92.50" cy="538.00" r="2.35" fill="#c2dfae"/>
<circle cx="92.50" cy="538.00" r="1.60" fill="#56703f"/>
<circle cx="100.75" cy="535.00" r="2.35" fill="#c2dfae"/>
<circle cx="100.75" cy="535.00" r="1.60" fill="#56703f"/>
<circle cx="105.75" cy="545.00" r="2.35" fill="#c2dfae"/>
<circle cx="105.75" cy="545.00" r="1.60" fill="#56703f"/>
<circle cx="124.25" cy="555.00" r="2.35" fill="#c2dfae"/>
<circle cx="124.25" cy="555.00" r="1.60" fill="#56703f"/>
<circle cx="126.50" cy="553.75" r="2.35" fill="#c2dfae"/>
<circle cx="126.50" cy="553.75" r="1.60" fill="#56703f"/>
<circle cx="152.50" cy="535.00" r="1.90" fill="#111"/>
<circle cx="116.25" cy="553.00" r="1.90" fill="#111"/>
<circle cx="134.50" cy="550.50" r="1.90" fill="#111"/>
<circle cx="147.00" cy="554.50" r="1.90" fill="#111"/>
<circle cx="150.00" cy="557.50" r="1.90" fill="#111"/>
<circle cx="140.50" cy="561.25" r="1.90" fill="#111"/>
<circle cx="171.25" cy="552.50" r="1.90" fill="#111"/>
<circle cx="170.00" cy="558.25" r="1.90" fill="#111"/>
<circle cx="163.75" cy="559.50" r="1.90" fill="#111"/>
<circle cx="168.00" cy="561.25" r="1.90" fill="#111"/>
<circle cx="168.75" cy="545.50" r="2.00" fill="#d43c48"/>
<circle cx="168.75" cy="545.50" r="1.30" fill="#9a1626"/>
<circle cx="153.00" cy="562.50" r="2.00" fill="#d43c48"/>
<circle cx="153.00" cy="562.50" r="1.30" fill="#9a1626"/>
<circle cx="161.75" cy="562.50" r="2.00" fill="#d43c48"/>
<circle cx="161.75" cy="562.50" r="1.30" fill="#9a1626"/>
<circle cx="171.75" cy="562.00" r="2.00" fill="#d43c48"/>
<circle cx="171.75" cy="562.00" r="1.30" fill="#9a1626"/>
<circle cx="170.50" cy="563.75" r="2.00" fill="#d43c48"/>
<circle cx="170.50" cy="563.75" r="1.30" fill="#9a1626"/>
<text x="85.80" y="485.87" font-size="11.5" text-anchor="start" stroke="#111" stroke-width="0.42" fill="#111">B cell</text>
<polygon points="119.05,477.75 119.94,479.23 121.62,479.62 120.49,480.92 120.64,482.63 119.05,481.96 117.46,482.63 117.61,480.92 116.48,479.62 118.16,479.23" fill="#111"/>
<polygon points="123.95,477.75 124.84,479.23 126.52,479.62 125.39,480.92 125.54,482.63 123.95,481.96 122.36,482.63 122.51,480.92 121.38,479.62 123.06,479.23" fill="#111"/>
<rect x="238.80" y="328.75" width="109.90" height="23.25" fill="#dadada"/>
<rect x="262.80" y="293.00" width="20.70" height="74.20" fill="#dadada"/>
<line x1="236.50" y1="293.00" x2="236.50" y2="369.60" stroke="#111" stroke-width="1.3"/>
<line x1="235.70" y1="369.50" x2="350.80" y2="369.50" stroke="#111" stroke-width="1.3"/>
<line x1="350.50" y1="293.00" x2="350.50" y2="369.60" stroke="#111" stroke-width="1.3"/>
<line x1="233.80" y1="293.50" x2="236.30" y2="293.50" stroke="#111" stroke-width="1.0"/>
<text x="231.10" y="294.97" font-size="9.4" text-anchor="end" font-weight="bold" fill="#111">40</text>
<line x1="233.80" y1="310.50" x2="236.30" y2="310.50" stroke="#111" stroke-width="1.0"/>
<text x="231.10" y="312.72" font-size="9.4" text-anchor="end" font-weight="bold" fill="#111">30</text>
<line x1="233.80" y1="328.50" x2="236.30" y2="328.50" stroke="#111" stroke-width="1.0"/>
<text x="231.10" y="330.72" font-size="9.4" text-anchor="end" font-weight="bold" fill="#111">20</text>
<line x1="233.80" y1="347.50" x2="236.30" y2="347.50" stroke="#111" stroke-width="1.0"/>
<text x="231.10" y="348.97" font-size="9.4" text-anchor="end" font-weight="bold" fill="#111">10</text>
<line x1="233.80" y1="365.50" x2="236.30" y2="365.50" stroke="#111" stroke-width="1.0"/>
<text x="231.10" y="366.97" font-size="9.4" text-anchor="end" font-weight="bold" fill="#111">0</text>
<line x1="236.50" y1="369.00" x2="236.50" y2="371.80" stroke="#111" stroke-width="1.0"/>
<line x1="247.73" y1="369.00" x2="247.73" y2="371.30" stroke="#111" stroke-width="0.9"/>
<line x1="254.41" y1="369.00" x2="254.41" y2="371.30" stroke="#111" stroke-width="0.9"/>
<line x1="259.16" y1="369.00" x2="259.16" y2="371.30" stroke="#111" stroke-width="0.9"/>
<line x1="262.84" y1="369.00" x2="262.84" y2="371.30" stroke="#111" stroke-width="0.9"/>
<line x1="265.84" y1="369.00" x2="265.84" y2="371.30" stroke="#111" stroke-width="0.9"/>
<line x1="268.39" y1="369.00" x2="268.39" y2="371.30" stroke="#111" stroke-width="0.9"/>
<line x1="270.59" y1="369.00" x2="270.59" y2="371.30" stroke="#111" stroke-width="0.9"/>
<line x1="272.53" y1="369.00" x2="272.53" y2="371.30" stroke="#111" stroke-width="0.9"/>
<line x1="274.50" y1="369.00" x2="274.50" y2="371.80" stroke="#111" stroke-width="1.0"/>
<line x1="285.70" y1="369.00" x2="285.70" y2="371.30" stroke="#111" stroke-width="0.9"/>
<line x1="292.38" y1="369.00" x2="292.38" y2="371.30" stroke="#111" stroke-width="0.9"/>
<line x1="297.12" y1="369.00" x2="297.12" y2="371.30" stroke="#111" stroke-width="0.9"/>
<line x1="300.80" y1="369.00" x2="300.80" y2="371.30" stroke="#111" stroke-width="0.9"/>
<line x1="303.81" y1="369.00" x2="303.81" y2="371.30" stroke="#111" stroke-width="0.9"/>
<line x1="306.35" y1="369.00" x2="306.35" y2="371.30" stroke="#111" stroke-width="0.9"/>
<line x1="308.55" y1="369.00" x2="308.55" y2="371.30" stroke="#111" stroke-width="0.9"/>
<line x1="310.50" y1="369.00" x2="310.50" y2="371.30" stroke="#111" stroke-width="0.9"/>
<line x1="312.50" y1="369.00" x2="312.50" y2="371.80" stroke="#111" stroke-width="1.0"/>
<line x1="323.66" y1="369.00" x2="323.66" y2="371.30" stroke="#111" stroke-width="0.9"/>
<line x1="330.35" y1="369.00" x2="330.35" y2="371.30" stroke="#111" stroke-width="0.9"/>
<line x1="335.09" y1="369.00" x2="335.09" y2="371.30" stroke="#111" stroke-width="0.9"/>
<line x1="338.77" y1="369.00" x2="338.77" y2="371.30" stroke="#111" stroke-width="0.9"/>
<line x1="341.78" y1="369.00" x2="341.78" y2="371.30" stroke="#111" stroke-width="0.9"/>
<line x1="344.32" y1="369.00" x2="344.32" y2="371.30" stroke="#111" stroke-width="0.9"/>
<line x1="346.52" y1="369.00" x2="346.52" y2="371.30" stroke="#111" stroke-width="0.9"/>
<line x1="348.46" y1="369.00" x2="348.46" y2="371.30" stroke="#111" stroke-width="0.9"/>
<line x1="350.50" y1="369.00" x2="350.50" y2="371.80" stroke="#111" stroke-width="1.0"/>
<circle cx="270.75" cy="338.00" r="2.35" fill="#c2dfae"/>
<circle cx="270.75" cy="338.00" r="1.60" fill="#56703f"/>
<circle cx="268.00" cy="356.25" r="2.35" fill="#c2dfae"/>
<circle cx="268.00" cy="356.25" r="1.60" fill="#56703f"/>
<circle cx="276.25" cy="355.00" r="2.35" fill="#c2dfae"/>
<circle cx="276.25" cy="355.00" r="1.60" fill="#56703f"/>
<circle cx="281.75" cy="350.50" r="2.35" fill="#c2dfae"/>
<circle cx="281.75" cy="350.50" r="1.60" fill="#56703f"/>
<circle cx="300.50" cy="355.00" r="2.35" fill="#c2dfae"/>
<circle cx="300.50" cy="355.00" r="1.60" fill="#56703f"/>
<circle cx="302.50" cy="309.25" r="2.35" fill="#c2dfae"/>
<circle cx="302.50" cy="309.25" r="1.60" fill="#56703f"/>
<circle cx="292.00" cy="365.00" r="1.90" fill="#111"/>
<circle cx="316.25" cy="365.00" r="1.90" fill="#111"/>
<circle cx="323.25" cy="363.25" r="1.90" fill="#111"/>
<circle cx="326.25" cy="345.75" r="1.90" fill="#111"/>
<circle cx="344.50" cy="350.50" r="1.90" fill="#111"/>
<circle cx="347.50" cy="365.00" r="1.90" fill="#111"/>
<circle cx="327.50" cy="365.00" r="2.00" fill="#d43c48"/>
<circle cx="327.50" cy="365.00" r="1.30" fill="#9a1626"/>
<circle cx="338.75" cy="365.00" r="2.00" fill="#d43c48"/>
<circle cx="338.75" cy="365.00" r="1.30" fill="#9a1626"/>
<circle cx="341.25" cy="365.00" r="2.00" fill="#d43c48"/>
<circle cx="341.25" cy="365.00" r="1.30" fill="#9a1626"/>
<circle cx="345.00" cy="365.00" r="2.00" fill="#d43c48"/>
<circle cx="345.00" cy="365.00" r="1.30" fill="#9a1626"/>
<circle cx="347.50" cy="365.50" r="2.00" fill="#d43c48"/>
<circle cx="347.50" cy="365.50" r="1.30" fill="#9a1626"/>
<text x="260.60" y="286.67" font-size="11.5" text-anchor="start" stroke="#111" stroke-width="0.42" fill="#111">CD1c+ mDC</text>
<rect x="238.80" y="435.50" width="109.90" height="22.20" fill="#dadada"/>
<rect x="262.80" y="393.00" width="20.00" height="73.95" fill="#dadada"/>
<line x1="236.50" y1="393.00" x2="236.50" y2="469.35" stroke="#111" stroke-width="1.3"/>
<line x1="235.70" y1="468.50" x2="350.80" y2="468.50" stroke="#111" stroke-width="1.3"/>
<line x1="350.50" y1="393.00" x2="350.50" y2="469.35" stroke="#111" stroke-width="1.3"/>
<line x1="233.80" y1="393.50" x2="236.30" y2="393.50" stroke="#111" stroke-width="1.0"/>
<text x="231.10" y="394.97" font-size="9.4" text-anchor="end" font-weight="bold" fill="#111">200</text>
<line x1="233.80" y1="411.50" x2="236.30" y2="411.50" stroke="#111" stroke-width="1.0"/>
<text x="231.10" y="413.22" font-size="9.4" text-anchor="end" font-weight="bold" fill="#111">150</text>
<line x1="233.80" y1="429.50" x2="236.30" y2="429.50" stroke="#111" stroke-width="1.0"/>
<text x="231.10" y="431.22" font-size="9.4" text-anchor="end" font-weight="bold" fill="#111">100</text>
<line x1="233.80" y1="447.50" x2="236.30" y2="447.50" stroke="#111" stroke-width="1.0"/>
<text x="231.10" y="449.47" font-size="9.4" text-anchor="end" font-weight="bold" fill="#111">50</text>
<line x1="233.80" y1="465.50" x2="236.30" y2="465.50" stroke="#111" stroke-width="1.0"/>
<text x="231.10" y="466.97" font-size="9.4" text-anchor="end" font-weight="bold" fill="#111">0</text>
<line x1="236.50" y1="468.75" x2="236.50" y2="471.55" stroke="#111" stroke-width="1.0"/>
<line x1="247.73" y1="468.75" x2="247.73" y2="471.05" stroke="#111" stroke-width="0.9"/>
<line x1="254.41" y1="468.75" x2="254.41" y2="471.05" stroke="#111" stroke-width="0.9"/>
<line x1="259.16" y1="468.75" x2="259.16" y2="471.05" stroke="#111" stroke-width="0.9"/>
<line x1="262.84" y1="468.75" x2="262.84" y2="471.05" stroke="#111" stroke-width="0.9"/>
<line x1="265.84" y1="468.75" x2="265.84" y2="471.05" stroke="#111" stroke-width="0.9"/>
<line x1="268.39" y1="468.75" x2="268.39" y2="471.05" stroke="#111" stroke-width="0.9"/>
<line x1="270.59" y1="468.75" x2="270.59" y2="471.05" stroke="#111" stroke-width="0.9"/>
<line x1="272.53" y1="468.75" x2="272.53" y2="471.05" stroke="#111" stroke-width="0.9"/>
<line x1="274.50" y1="468.75" x2="274.50" y2="471.55" stroke="#111" stroke-width="1.0"/>
<line x1="285.70" y1="468.75" x2="285.70" y2="471.05" stroke="#111" stroke-width="0.9"/>
<line x1="292.38" y1="468.75" x2="292.38" y2="471.05" stroke="#111" stroke-width="0.9"/>
<line x1="297.12" y1="468.75" x2="297.12" y2="471.05" stroke="#111" stroke-width="0.9"/>
<line x1="300.80" y1="468.75" x2="300.80" y2="471.05" stroke="#111" stroke-width="0.9"/>
<line x1="303.81" y1="468.75" x2="303.81" y2="471.05" stroke="#111" stroke-width="0.9"/>
<line x1="306.35" y1="468.75" x2="306.35" y2="471.05" stroke="#111" stroke-width="0.9"/>
<line x1="308.55" y1="468.75" x2="308.55" y2="471.05" stroke="#111" stroke-width="0.9"/>
<line x1="310.50" y1="468.75" x2="310.50" y2="471.05" stroke="#111" stroke-width="0.9"/>
<line x1="312.50" y1="468.75" x2="312.50" y2="471.55" stroke="#111" stroke-width="1.0"/>
<line x1="323.66" y1="468.75" x2="323.66" y2="471.05" stroke="#111" stroke-width="0.9"/>
<line x1="330.35" y1="468.75" x2="330.35" y2="471.05" stroke="#111" stroke-width="0.9"/>
<line x1="335.09" y1="468.75" x2="335.09" y2="471.05" stroke="#111" stroke-width="0.9"/>
<line x1="338.77" y1="468.75" x2="338.77" y2="471.05" stroke="#111" stroke-width="0.9"/>
<line x1="341.78" y1="468.75" x2="341.78" y2="471.05" stroke="#111" stroke-width="0.9"/>
<line x1="344.32" y1="468.75" x2="344.32" y2="471.05" stroke="#111" stroke-width="0.9"/>
<line x1="346.52" y1="468.75" x2="346.52" y2="471.05" stroke="#111" stroke-width="0.9"/>
<line x1="348.46" y1="468.75" x2="348.46" y2="471.05" stroke="#111" stroke-width="0.9"/>
<line x1="350.50" y1="468.75" x2="350.50" y2="471.55" stroke="#111" stroke-width="1.0"/>
<circle cx="268.00" cy="455.00" r="2.35" fill="#c2dfae"/>
<circle cx="268.00" cy="455.00" r="1.60" fill="#56703f"/>
<circle cx="270.75" cy="457.00" r="2.35" fill="#c2dfae"/>
<circle cx="270.75" cy="457.00" r="1.60" fill="#56703f"/>
<circle cx="276.25" cy="457.50" r="2.35" fill="#c2dfae"/>
<circle cx="276.25" cy="457.50" r="1.60" fill="#56703f"/>
<circle cx="281.75" cy="458.25" r="2.35" fill="#c2dfae"/>
<circle cx="281.75" cy="458.25" r="1.60" fill="#56703f"/>
<circle cx="300.00" cy="464.25" r="2.35" fill="#c2dfae"/>
<circle cx="300.00" cy="464.25" r="1.60" fill="#56703f"/>
<circle cx="302.50" cy="438.75" r="2.35" fill="#c2dfae"/>
<circle cx="302.50" cy="438.75" r="1.60" fill="#56703f"/>
<circle cx="310.75" cy="413.00" r="1.90" fill="#111"/>
<circle cx="292.00" cy="465.00" r="1.90" fill="#111"/>
<circle cx="316.25" cy="464.50" r="1.90" fill="#111"/>
<circle cx="323.25" cy="464.25" r="1.90" fill="#111"/>
<circle cx="326.25" cy="464.25" r="1.90" fill="#111"/>
<circle cx="328.25" cy="451.75" r="1.90" fill="#111"/>
<circle cx="344.50" cy="464.50" r="1.90" fill="#111"/>
<circle cx="328.25" cy="465.00" r="2.00" fill="#d43c48"/>
<circle cx="328.25" cy="465.00" r="1.30" fill="#9a1626"/>
<circle cx="338.75" cy="465.00" r="2.00" fill="#d43c48"/>
<circle cx="338.75" cy="465.00" r="1.30" fill="#9a1626"/>
<circle cx="341.00" cy="465.00" r="2.00" fill="#d43c48"/>
<circle cx="341.00" cy="465.00" r="1.30" fill="#9a1626"/>
<circle cx="345.00" cy="465.00" r="2.00" fill="#d43c48"/>
<circle cx="345.00" cy="465.00" r="1.30" fill="#9a1626"/>
<circle cx="347.50" cy="465.00" r="2.00" fill="#d43c48"/>
<circle cx="347.50" cy="465.00" r="1.30" fill="#9a1626"/>
<text x="264.60" y="387.87" font-size="11.5" text-anchor="start" stroke="#111" stroke-width="0.42" fill="#111">CD16+ mono</text>
<polygon points="336.80,379.45 337.69,380.93 339.37,381.32 338.24,382.62 338.39,384.33 336.80,383.66 335.21,384.33 335.36,382.62 334.23,381.32 335.91,380.93" fill="#111"/>
<rect x="240.10" y="497.00" width="109.40" height="55.75" fill="#dadada"/>
<rect x="264.20" y="488.75" width="20.80" height="73.45" fill="#dadada"/>
<line x1="237.50" y1="488.75" x2="237.50" y2="564.60" stroke="#111" stroke-width="1.3"/>
<line x1="237.00" y1="564.50" x2="351.60" y2="564.50" stroke="#111" stroke-width="1.3"/>
<line x1="351.50" y1="488.75" x2="351.50" y2="564.60" stroke="#111" stroke-width="1.3"/>
<line x1="235.10" y1="488.50" x2="237.60" y2="488.50" stroke="#111" stroke-width="1.0"/>
<text x="232.40" y="490.72" font-size="9.4" text-anchor="end" font-weight="bold" fill="#111">600</text>
<line x1="235.10" y1="513.50" x2="237.60" y2="513.50" stroke="#111" stroke-width="1.0"/>
<text x="232.40" y="514.97" font-size="9.4" text-anchor="end" font-weight="bold" fill="#111">400</text>
<line x1="235.10" y1="537.50" x2="237.60" y2="537.50" stroke="#111" stroke-width="1.0"/>
<text x="232.40" y="539.47" font-size="9.4" text-anchor="end" font-weight="bold" fill="#111">200</text>
<line x1="235.10" y1="562.50" x2="237.60" y2="562.50" stroke="#111" stroke-width="1.0"/>
<text x="232.40" y="563.97" font-size="9.4" text-anchor="end" font-weight="bold" fill="#111">0</text>
<line x1="237.50" y1="564.00" x2="237.50" y2="566.80" stroke="#111" stroke-width="1.0"/>
<line x1="248.98" y1="564.00" x2="248.98" y2="566.30" stroke="#111" stroke-width="0.9"/>
<line x1="255.64" y1="564.00" x2="255.64" y2="566.30" stroke="#111" stroke-width="0.9"/>
<line x1="260.36" y1="564.00" x2="260.36" y2="566.30" stroke="#111" stroke-width="0.9"/>
<line x1="264.02" y1="564.00" x2="264.02" y2="566.30" stroke="#111" stroke-width="0.9"/>
<line x1="267.01" y1="564.00" x2="267.01" y2="566.30" stroke="#111" stroke-width="0.9"/>
<line x1="269.54" y1="564.00" x2="269.54" y2="566.30" stroke="#111" stroke-width="0.9"/>
<line x1="271.74" y1="564.00" x2="271.74" y2="566.30" stroke="#111" stroke-width="0.9"/>
<line x1="273.67" y1="564.00" x2="273.67" y2="566.30" stroke="#111" stroke-width="0.9"/>
<line x1="275.50" y1="564.00" x2="275.50" y2="566.80" stroke="#111" stroke-width="1.0"/>
<line x1="286.78" y1="564.00" x2="286.78" y2="566.30" stroke="#111" stroke-width="0.9"/>
<line x1="293.44" y1="564.00" x2="293.44" y2="566.30" stroke="#111" stroke-width="0.9"/>
<line x1="298.16" y1="564.00" x2="298.16" y2="566.30" stroke="#111" stroke-width="0.9"/>
<line x1="301.82" y1="564.00" x2="301.82" y2="566.30" stroke="#111" stroke-width="0.9"/>
<line x1="304.81" y1="564.00" x2="304.81" y2="566.30" stroke="#111" stroke-width="0.9"/>
<line x1="307.34" y1="564.00" x2="307.34" y2="566.30" stroke="#111" stroke-width="0.9"/>
<line x1="309.54" y1="564.00" x2="309.54" y2="566.30" stroke="#111" stroke-width="0.9"/>
<line x1="311.47" y1="564.00" x2="311.47" y2="566.30" stroke="#111" stroke-width="0.9"/>
<line x1="313.50" y1="564.00" x2="313.50" y2="566.80" stroke="#111" stroke-width="1.0"/>
<line x1="324.58" y1="564.00" x2="324.58" y2="566.30" stroke="#111" stroke-width="0.9"/>
<line x1="331.24" y1="564.00" x2="331.24" y2="566.30" stroke="#111" stroke-width="0.9"/>
<line x1="335.96" y1="564.00" x2="335.96" y2="566.30" stroke="#111" stroke-width="0.9"/>
<line x1="339.62" y1="564.00" x2="339.62" y2="566.30" stroke="#111" stroke-width="0.9"/>
<line x1="342.61" y1="564.00" x2="342.61" y2="566.30" stroke="#111" stroke-width="0.9"/>
<line x1="345.14" y1="564.00" x2="345.14" y2="566.30" stroke="#111" stroke-width="0.9"/>
<line x1="347.34" y1="564.00" x2="347.34" y2="566.30" stroke="#111" stroke-width="0.9"/>
<line x1="349.27" y1="564.00" x2="349.27" y2="566.30" stroke="#111" stroke-width="0.9"/>
<line x1="351.50" y1="564.00" x2="351.50" y2="566.80" stroke="#111" stroke-width="1.0"/>
<circle cx="283.25" cy="509.25" r="2.35" fill="#c2dfae"/>
<circle cx="283.25" cy="509.25" r="1.60" fill="#56703f"/>
<circle cx="272.50" cy="536.75" r="2.35" fill="#c2dfae"/>
<circle cx="272.50" cy="536.75" r="1.60" fill="#56703f"/>
<circle cx="278.00" cy="543.75" r="2.35" fill="#c2dfae"/>
<circle cx="278.00" cy="543.75" r="1.60" fill="#56703f"/>
<circle cx="270.00" cy="548.25" r="2.35" fill="#c2dfae"/>
<circle cx="270.00" cy="548.25" r="1.60" fill="#56703f"/>
<circle cx="302.00" cy="546.25" r="2.35" fill="#c2dfae"/>
<circle cx="302.00" cy="546.25" r="1.60" fill="#56703f"/>
<circle cx="304.00" cy="552.75" r="2.35" fill="#c2dfae"/>
<circle cx="304.00" cy="552.75" r="1.60" fill="#56703f"/>
<circle cx="330.00" cy="515.00" r="1.90" fill="#111"/>
<circle cx="312.00" cy="532.00" r="1.90" fill="#111"/>
<circle cx="293.75" cy="542.50" r="1.90" fill="#111"/>
<circle cx="328.00" cy="551.75" r="1.90" fill="#111"/>
<circle cx="325.00" cy="555.00" r="1.90" fill="#111"/>
<circle cx="318.00" cy="562.00" r="1.90" fill="#111"/>
<circle cx="341.75" cy="556.25" r="1.90" fill="#111"/>
<circle cx="346.25" cy="550.00" r="1.90" fill="#111"/>
<circle cx="343.75" cy="562.00" r="1.90" fill="#111"/>
<circle cx="330.00" cy="562.00" r="2.00" fill="#d43c48"/>
<circle cx="330.00" cy="562.00" r="1.30" fill="#9a1626"/>
<circle cx="339.50" cy="562.00" r="2.00" fill="#d43c48"/>
<circle cx="339.50" cy="562.00" r="1.30" fill="#9a1626"/>
<circle cx="347.50" cy="559.50" r="2.00" fill="#d43c48"/>
<circle cx="347.50" cy="559.50" r="1.30" fill="#9a1626"/>
<circle cx="349.00" cy="562.00" r="2.00" fill="#d43c48"/>
<circle cx="349.00" cy="562.00" r="1.30" fill="#9a1626"/>
<circle cx="346.00" cy="560.00" r="2.00" fill="#d43c48"/>
<circle cx="346.00" cy="560.00" r="1.30" fill="#9a1626"/>
<text x="265.20" y="484.77" font-size="11.5" text-anchor="start" stroke="#111" stroke-width="0.42" fill="#111">NK cell</text>
<polygon points="306.20,477.45 307.09,478.93 308.77,479.32 307.64,480.62 307.79,482.33 306.20,481.66 304.61,482.33 304.76,480.62 303.63,479.32 305.31,478.93" fill="#111"/>
<rect x="408.00" y="292.50" width="109.30" height="47.50" fill="#dadada"/>
<rect x="431.30" y="340.00" width="20.50" height="28.70" fill="#dadada"/>
<line x1="405.50" y1="292.20" x2="405.50" y2="369.80" stroke="#111" stroke-width="1.3"/>
<line x1="404.90" y1="369.50" x2="520.00" y2="369.50" stroke="#111" stroke-width="1.3"/>
<line x1="518.50" y1="292.20" x2="518.50" y2="369.80" stroke="#111" stroke-width="2.6"/>
<line x1="403.00" y1="292.50" x2="405.50" y2="292.50" stroke="#111" stroke-width="1.0"/>
<text x="399.70" y="294.47" font-size="9.4" text-anchor="end" font-weight="bold" fill="#111">1.5</text>
<line x1="403.00" y1="316.50" x2="405.50" y2="316.50" stroke="#111" stroke-width="1.0"/>
<text x="399.70" y="318.22" font-size="9.4" text-anchor="end" font-weight="bold" fill="#111">1.0</text>
<line x1="403.00" y1="340.50" x2="405.50" y2="340.50" stroke="#111" stroke-width="1.0"/>
<text x="399.70" y="341.97" font-size="9.4" text-anchor="end" font-weight="bold" fill="#111">0.5</text>
<line x1="403.00" y1="363.50" x2="405.50" y2="363.50" stroke="#111" stroke-width="1.0"/>
<text x="399.70" y="365.72" font-size="9.4" text-anchor="end" font-weight="bold" fill="#111">0.0</text>
<line x1="405.50" y1="369.20" x2="405.50" y2="371.40" stroke="#111" stroke-width="0.8"/>
<line x1="416.87" y1="369.20" x2="416.87" y2="370.60" stroke="#111" stroke-width="0.8"/>
<line x1="423.52" y1="369.20" x2="423.52" y2="370.60" stroke="#111" stroke-width="0.8"/>
<line x1="428.24" y1="369.20" x2="428.24" y2="370.60" stroke="#111" stroke-width="0.8"/>
<line x1="431.90" y1="369.20" x2="431.90" y2="370.60" stroke="#111" stroke-width="0.8"/>
<line x1="434.89" y1="369.20" x2="434.89" y2="370.60" stroke="#111" stroke-width="0.8"/>
<line x1="437.42" y1="369.20" x2="437.42" y2="370.60" stroke="#111" stroke-width="0.8"/>
<line x1="439.61" y1="369.20" x2="439.61" y2="370.60" stroke="#111" stroke-width="0.8"/>
<line x1="441.54" y1="369.20" x2="441.54" y2="370.60" stroke="#111" stroke-width="0.8"/>
<line x1="443.27" y1="369.20" x2="443.27" y2="371.40" stroke="#111" stroke-width="0.8"/>
<line x1="454.64" y1="369.20" x2="454.64" y2="370.60" stroke="#111" stroke-width="0.8"/>
<line x1="461.29" y1="369.20" x2="461.29" y2="370.60" stroke="#111" stroke-width="0.8"/>
<line x1="466.00" y1="369.20" x2="466.00" y2="370.60" stroke="#111" stroke-width="0.8"/>
<line x1="469.66" y1="369.20" x2="469.66" y2="370.60" stroke="#111" stroke-width="0.8"/>
<line x1="472.65" y1="369.20" x2="472.65" y2="370.60" stroke="#111" stroke-width="0.8"/>
<line x1="475.18" y1="369.20" x2="475.18" y2="370.60" stroke="#111" stroke-width="0.8"/>
<line x1="477.37" y1="369.20" x2="477.37" y2="370.60" stroke="#111" stroke-width="0.8"/>
<line x1="479.31" y1="369.20" x2="479.31" y2="370.60" stroke="#111" stroke-width="0.8"/>
<line x1="481.03" y1="369.20" x2="481.03" y2="371.40" stroke="#111" stroke-width="0.8"/>
<line x1="492.40" y1="369.20" x2="492.40" y2="370.60" stroke="#111" stroke-width="0.8"/>
<line x1="499.05" y1="369.20" x2="499.05" y2="370.60" stroke="#111" stroke-width="0.8"/>
<line x1="503.77" y1="369.20" x2="503.77" y2="370.60" stroke="#111" stroke-width="0.8"/>
<line x1="507.43" y1="369.20" x2="507.43" y2="370.60" stroke="#111" stroke-width="0.8"/>
<line x1="510.42" y1="369.20" x2="510.42" y2="370.60" stroke="#111" stroke-width="0.8"/>
<line x1="512.95" y1="369.20" x2="512.95" y2="370.60" stroke="#111" stroke-width="0.8"/>
<line x1="515.14" y1="369.20" x2="515.14" y2="370.60" stroke="#111" stroke-width="0.8"/>
<line x1="517.07" y1="369.20" x2="517.07" y2="370.60" stroke="#111" stroke-width="0.8"/>
<line x1="518.80" y1="369.20" x2="518.80" y2="371.40" stroke="#111" stroke-width="0.8"/>
<circle cx="437.00" cy="325.75" r="2.35" fill="#c2dfae"/>
<circle cx="437.00" cy="325.75" r="1.60" fill="#56703f"/>
<circle cx="440.00" cy="321.25" r="2.35" fill="#c2dfae"/>
<circle cx="440.00" cy="321.25" r="1.60" fill="#56703f"/>
<circle cx="445.50" cy="325.75" r="2.35" fill="#c2dfae"/>
<circle cx="445.50" cy="325.75" r="1.60" fill="#56703f"/>
<circle cx="450.50" cy="334.50" r="2.35" fill="#c2dfae"/>
<circle cx="450.50" cy="334.50" r="1.60" fill="#56703f"/>
<circle cx="471.25" cy="335.50" r="2.35" fill="#c2dfae"/>
<circle cx="471.25" cy="335.50" r="1.60" fill="#56703f"/>
<circle cx="469.50" cy="356.25" r="2.35" fill="#c2dfae"/>
<circle cx="469.50" cy="356.25" r="1.60" fill="#56703f"/>
<circle cx="492.00" cy="316.25" r="1.90" fill="#111"/>
<circle cx="461.25" cy="363.75" r="1.90" fill="#111"/>
<circle cx="485.00" cy="363.75" r="1.90" fill="#111"/>
<circle cx="495.00" cy="360.00" r="1.90" fill="#111"/>
<circle cx="510.00" cy="363.75" r="1.90" fill="#111"/>
<circle cx="497.00" cy="363.75" r="2.00" fill="#d43c48"/>
<circle cx="497.00" cy="363.75" r="1.30" fill="#9a1626"/>
<circle cx="506.25" cy="363.75" r="2.00" fill="#d43c48"/>
<circle cx="506.25" cy="363.75" r="1.30" fill="#9a1626"/>
<circle cx="508.75" cy="363.75" r="2.00" fill="#d43c48"/>
<circle cx="508.75" cy="363.75" r="1.30" fill="#9a1626"/>
<circle cx="513.75" cy="363.75" r="2.00" fill="#d43c48"/>
<circle cx="513.75" cy="363.75" r="1.30" fill="#9a1626"/>
<circle cx="517.00" cy="363.75" r="2.00" fill="#d43c48"/>
<circle cx="517.00" cy="363.75" r="1.30" fill="#9a1626"/>
<text x="408.60" y="286.67" font-size="11.5" text-anchor="start" stroke="#111" stroke-width="0.42" fill="#111">CD141+ mDC</text>
<polygon points="485.55,278.15 486.44,279.63 488.12,280.02 486.99,281.32 487.14,283.03 485.55,282.36 483.96,283.03 484.11,281.32 482.98,280.02 484.66,279.63" fill="#111"/>
<polygon points="490.45,278.15 491.34,279.63 493.02,280.02 491.89,281.32 492.04,283.03 490.45,282.36 488.86,283.03 489.01,281.32 487.88,280.02 489.56,279.63" fill="#111"/>
<text x="393.80" y="406.44" font-size="11" text-anchor="start" stroke="#111" stroke-width="0.42" fill="#111">Clinical Score</text>
<text x="428.20" y="422.84" font-size="11" text-anchor="middle" stroke="#111" stroke-width="0.42" fill="#111">0</text>
<circle cx="448.10" cy="418.10" r="2.4" fill="#6f9f4a" stroke="#4a7030" stroke-width="1.2"/>
<text x="428.20" y="438.14" font-size="11" text-anchor="middle" stroke="#111" stroke-width="0.42" fill="#111">1-2</text>
<circle cx="448.10" cy="433.40" r="3.0" fill="#000"/>
<text x="428.20" y="452.04" font-size="11" text-anchor="middle" stroke="#111" stroke-width="0.42" fill="#111">3-4</text>
<circle cx="448.10" cy="447.80" r="2.4" fill="#c43240" stroke="#8a0c18" stroke-width="1.2"/>
<text x="55.80" y="577.57" font-size="9.4" text-anchor="middle" font-weight="bold" fill="#111">10</text>
<text x="94.00" y="577.57" font-size="9.4" text-anchor="middle" font-weight="bold" fill="#111">100</text>
<text x="134.40" y="577.57" font-size="9.4" text-anchor="middle" font-weight="bold" fill="#111">1000</text>
<text x="173.50" y="577.57" font-size="9.4" text-anchor="middle" font-weight="bold" fill="#111">10000</text>
<text x="237.00" y="577.57" font-size="9.4" text-anchor="middle" font-weight="bold" fill="#111">10</text>
<text x="276.40" y="577.57" font-size="9.4" text-anchor="middle" font-weight="bold" fill="#111">100</text>
<text x="315.00" y="577.57" font-size="9.4" text-anchor="middle" font-weight="bold" fill="#111">1000</text>
<text x="354.60" y="577.57" font-size="9.4" text-anchor="middle" font-weight="bold" fill="#111">10000</text>
<line x1="28.50" y1="370.00" x2="28.50" y2="587.20" stroke="#111" stroke-width="1.35"/>
<line x1="27.60" y1="586.50" x2="416.00" y2="586.50" stroke="#111" stroke-width="1.35"/>
<path d="M28.5 365.6 L26.2 372 L30.8 372 Z" fill="#111"/>
<path d="M420.6 586.5 L414.2 584.2 L414.2 588.8 Z" fill="#111"/>
<text x="469.20" y="590.34" font-size="9.9" text-anchor="middle" stroke="#111" stroke-width="0.42" fill="#111">FLT3L (pg/ml)</text>
<text x="-0.80" y="622.00" font-size="13" text-anchor="start" font-weight="bold" stroke="#000" stroke-width="0.6" fill="#111">F</text>
<line x1="52.50" y1="624.00" x2="52.50" y2="707.20" stroke="#111" stroke-width="1.3"/>
<line x1="52.20" y1="706.50" x2="177.20" y2="706.50" stroke="#111" stroke-width="1.3"/>
<line x1="50.00" y1="624.50" x2="52.80" y2="624.50" stroke="#111" stroke-width="1.0"/>
<text x="46.30" y="625.51" font-size="9.8" text-anchor="end" font-weight="bold" fill="#111">20</text>
<line x1="50.00" y1="644.50" x2="52.80" y2="644.50" stroke="#111" stroke-width="1.0"/>
<text x="46.30" y="645.71" font-size="9.8" text-anchor="end" font-weight="bold" fill="#111">15</text>
<line x1="50.00" y1="665.50" x2="52.80" y2="665.50" stroke="#111" stroke-width="1.0"/>
<text x="46.30" y="666.41" font-size="9.8" text-anchor="end" font-weight="bold" fill="#111">10</text>
<line x1="50.00" y1="686.50" x2="52.80" y2="686.50" stroke="#111" stroke-width="1.0"/>
<text x="46.30" y="687.11" font-size="9.8" text-anchor="end" font-weight="bold" fill="#111">5</text>
<line x1="50.00" y1="706.50" x2="52.80" y2="706.50" stroke="#111" stroke-width="1.0"/>
<text x="46.30" y="707.31" font-size="9.8" text-anchor="end" font-weight="bold" fill="#111">0</text>
<text x="5.40" y="672.48" font-size="12.5" text-anchor="middle" stroke="#111" stroke-width="0.42" fill="#111" transform="rotate(-90 5.40 668.00)">20-ΔCT</text>
<text x="81.10" y="721.70" font-size="12" text-anchor="middle" stroke="#111" stroke-width="0.42" fill="#111">C</text>
<text x="149.80" y="721.60" font-size="12" text-anchor="middle" stroke="#111" stroke-width="0.42" fill="#111">GATA-2</text>
<line x1="86.60" y1="621.50" x2="145.50" y2="621.50" stroke="#111" stroke-width="1.2"/>
<polygon points="118.70,611.85 119.59,613.33 121.27,613.72 120.14,615.02 120.29,616.73 118.70,616.06 117.11,616.73 117.26,615.02 116.13,613.72 117.81,613.33" fill="#111"/>
<circle cx="83.40" cy="646.20" r="1.9" fill="#111"/>
<circle cx="78.30" cy="652.90" r="1.9" fill="#111"/>
<circle cx="83.40" cy="657.60" r="1.9" fill="#111"/>
<circle cx="88.40" cy="657.60" r="1.9" fill="#111"/>
<line x1="62.40" y1="655.50" x2="104.90" y2="655.50" stroke="#111" stroke-width="1.2"/>
<rect x="141.10" y="626.40" width="3.6" height="3.6" fill="#111"/>
<rect x="146.30" y="626.40" width="3.6" height="3.6" fill="#111"/>
<rect x="141.10" y="629.80" width="3.6" height="3.6" fill="#111"/>
<rect x="146.30" y="634.20" width="3.6" height="3.6" fill="#111"/>
<rect x="141.10" y="649.70" width="3.6" height="3.6" fill="#111"/>
<rect x="146.30" y="648.40" width="3.6" height="3.6" fill="#111"/>
<line x1="124.70" y1="633.50" x2="166.80" y2="633.50" stroke="#111" stroke-width="1.2"/>
<line x1="261.50" y1="618.00" x2="261.50" y2="703.00" stroke="#111" stroke-width="1.3"/>
<line x1="260.40" y1="702.50" x2="389.00" y2="702.50" stroke="#111" stroke-width="1.3"/>
<line x1="258.50" y1="628.50" x2="261.00" y2="628.50" stroke="#111" stroke-width="1.0"/>
<text x="255.80" y="634.14" font-size="9.6" text-anchor="end" font-weight="bold" fill="#111">1.0</text>
<line x1="258.50" y1="650.50" x2="261.00" y2="650.50" stroke="#111" stroke-width="1.0"/>
<text x="255.80" y="655.34" font-size="9.6" text-anchor="end" font-weight="bold" fill="#111">0.8</text>
<line x1="258.50" y1="671.50" x2="261.00" y2="671.50" stroke="#111" stroke-width="1.0"/>
<text x="255.80" y="676.34" font-size="9.6" text-anchor="end" font-weight="bold" fill="#111">0.6</text>
<line x1="258.50" y1="692.50" x2="261.00" y2="692.50" stroke="#111" stroke-width="1.0"/>
<text x="255.80" y="697.64" font-size="9.6" text-anchor="end" font-weight="bold" fill="#111">0.4</text>
<text x="262.00" y="713.38" font-size="5.8" text-anchor="middle" stroke="#111" stroke-width="0.42" fill="#111">10</text>
<text x="303.90" y="713.38" font-size="5.8" text-anchor="middle" stroke="#111" stroke-width="0.42" fill="#111">100</text>
<text x="345.80" y="713.38" font-size="5.8" text-anchor="middle" stroke="#111" stroke-width="0.42" fill="#111">1000</text>
<text x="386.50" y="713.38" font-size="5.8" text-anchor="middle" stroke="#111" stroke-width="0.42" fill="#111">10000</text>
<line x1="261.00" y1="702.60" x2="261.00" y2="704.80" stroke="#111" stroke-width="0.8"/>
<line x1="273.44" y1="702.60" x2="273.44" y2="704.40" stroke="#111" stroke-width="0.8"/>
<line x1="280.72" y1="702.60" x2="280.72" y2="704.40" stroke="#111" stroke-width="0.8"/>
<line x1="285.89" y1="702.60" x2="285.89" y2="704.40" stroke="#111" stroke-width="0.8"/>
<line x1="289.89" y1="702.60" x2="289.89" y2="704.40" stroke="#111" stroke-width="0.8"/>
<line x1="293.16" y1="702.60" x2="293.16" y2="704.40" stroke="#111" stroke-width="0.8"/>
<line x1="295.93" y1="702.60" x2="295.93" y2="704.40" stroke="#111" stroke-width="0.8"/>
<line x1="298.33" y1="702.60" x2="298.33" y2="704.40" stroke="#111" stroke-width="0.8"/>
<line x1="300.44" y1="702.60" x2="300.44" y2="704.40" stroke="#111" stroke-width="0.8"/>
<line x1="302.33" y1="702.60" x2="302.33" y2="704.80" stroke="#111" stroke-width="0.8"/>
<line x1="314.78" y1="702.60" x2="314.78" y2="704.40" stroke="#111" stroke-width="0.8"/>
<line x1="322.05" y1="702.60" x2="322.05" y2="704.40" stroke="#111" stroke-width="0.8"/>
<line x1="327.22" y1="702.60" x2="327.22" y2="704.40" stroke="#111" stroke-width="0.8"/>
<line x1="331.22" y1="702.60" x2="331.22" y2="704.40" stroke="#111" stroke-width="0.8"/>
<line x1="334.50" y1="702.60" x2="334.50" y2="704.40" stroke="#111" stroke-width="0.8"/>
<line x1="337.26" y1="702.60" x2="337.26" y2="704.40" stroke="#111" stroke-width="0.8"/>
<line x1="339.66" y1="702.60" x2="339.66" y2="704.40" stroke="#111" stroke-width="0.8"/>
<line x1="341.78" y1="702.60" x2="341.78" y2="704.40" stroke="#111" stroke-width="0.8"/>
<line x1="343.67" y1="702.60" x2="343.67" y2="704.80" stroke="#111" stroke-width="0.8"/>
<line x1="356.11" y1="702.60" x2="356.11" y2="704.40" stroke="#111" stroke-width="0.8"/>
<line x1="363.39" y1="702.60" x2="363.39" y2="704.40" stroke="#111" stroke-width="0.8"/>
<line x1="368.55" y1="702.60" x2="368.55" y2="704.40" stroke="#111" stroke-width="0.8"/>
<line x1="372.56" y1="702.60" x2="372.56" y2="704.40" stroke="#111" stroke-width="0.8"/>
<line x1="375.83" y1="702.60" x2="375.83" y2="704.40" stroke="#111" stroke-width="0.8"/>
<line x1="378.60" y1="702.60" x2="378.60" y2="704.40" stroke="#111" stroke-width="0.8"/>
<line x1="380.99" y1="702.60" x2="380.99" y2="704.40" stroke="#111" stroke-width="0.8"/>
<line x1="383.11" y1="702.60" x2="383.11" y2="704.40" stroke="#111" stroke-width="0.8"/>
<line x1="385.00" y1="702.60" x2="385.00" y2="704.80" stroke="#111" stroke-width="0.8"/>
<text x="331.70" y="724.00" font-size="12.3" text-anchor="middle" stroke="#111" stroke-width="0.42" fill="#111">FLT3L (pg/ml)</text>
<text x="226.90" y="668.40" font-size="12.3" text-anchor="middle" stroke="#111" stroke-width="0.42" fill="#111" transform="rotate(-90 226.90 664.00)">% T cells in PBMC</text>
<line x1="295.80" y1="664.50" x2="384.00" y2="632.50" stroke="#111" stroke-width="1.4"/>
<circle cx="296.00" cy="650.40" r="2.23" fill="#c2dfae"/>
<circle cx="296.00" cy="650.40" r="1.52" fill="#56703f"/>
<circle cx="305.40" cy="666.20" r="2.23" fill="#c2dfae"/>
<circle cx="305.40" cy="666.20" r="1.52" fill="#56703f"/>
<circle cx="310.70" cy="677.70" r="2.23" fill="#c2dfae"/>
<circle cx="310.70" cy="677.70" r="1.52" fill="#56703f"/>
<circle cx="334.00" cy="653.50" r="2.23" fill="#c2dfae"/>
<circle cx="334.00" cy="653.50" r="1.52" fill="#56703f"/>
<circle cx="331.50" cy="643.80" r="1.80" fill="#111"/>
<circle cx="349.30" cy="632.00" r="1.80" fill="#111"/>
<circle cx="361.80" cy="632.50" r="1.80" fill="#111"/>
<circle cx="360.30" cy="643.50" r="1.80" fill="#111"/>
<circle cx="380.50" cy="643.50" r="1.80" fill="#111"/>
<circle cx="373.50" cy="638.20" r="1.80" fill="#111"/>
<circle cx="375.50" cy="635.00" r="1.80" fill="#111"/>
<circle cx="377.80" cy="636.00" r="1.80" fill="#111"/>
<circle cx="373.50" cy="631.20" r="1.90" fill="#d43c48"/>
<circle cx="373.50" cy="631.20" r="1.23" fill="#9a1626"/>
<circle cx="380.50" cy="634.00" r="1.90" fill="#d43c48"/>
<circle cx="380.50" cy="634.00" r="1.23" fill="#9a1626"/>
<circle cx="383.00" cy="633.00" r="1.90" fill="#d43c48"/>
<circle cx="383.00" cy="633.00" r="1.23" fill="#9a1626"/>
<circle cx="385.00" cy="629.50" r="1.90" fill="#d43c48"/>
<circle cx="385.00" cy="629.50" r="1.23" fill="#9a1626"/>
<circle cx="384.00" cy="631.50" r="1.90" fill="#d43c48"/>
<circle cx="384.00" cy="631.50" r="1.23" fill="#9a1626"/>
<circle cx="382.50" cy="634.50" r="1.90" fill="#d43c48"/>
<circle cx="382.50" cy="634.50" r="1.23" fill="#9a1626"/>
<text x="341.60" y="681.25" font-size="11.2" text-anchor="start" stroke="#111" stroke-width="0.42" fill="#111">r=0.723</text>
<polygon points="382.35,671.65 383.24,673.13 384.92,673.52 383.79,674.82 383.94,676.53 382.35,675.86 380.76,676.53 380.91,674.82 379.78,673.52 381.46,673.13" fill="#111"/>
<polygon points="387.25,671.65 388.14,673.13 389.82,673.52 388.69,674.82 388.84,676.53 387.25,675.86 385.66,676.53 385.81,674.82 384.68,673.52 386.36,673.13" fill="#111"/>
<text x="425.80" y="653.24" font-size="11" text-anchor="start" stroke="#111" stroke-width="0.42" fill="#111">Clinical Score</text>
<text x="460.00" y="669.44" font-size="11" text-anchor="middle" stroke="#111" stroke-width="0.42" fill="#111">0</text>
<circle cx="479.60" cy="665.50" r="2.4" fill="#6f9f4a" stroke="#4a7030" stroke-width="1.2"/>
<text x="460.00" y="684.44" font-size="11" text-anchor="middle" stroke="#111" stroke-width="0.42" fill="#111">1-2</text>
<circle cx="479.60" cy="680.50" r="3.0" fill="#000"/>
<text x="460.00" y="698.94" font-size="11" text-anchor="middle" stroke="#111" stroke-width="0.42" fill="#111">3-4</text>
<circle cx="479.60" cy="695.00" r="2.4" fill="#c43240" stroke="#8a0c18" stroke-width="1.2"/>
</svg></body></html>
